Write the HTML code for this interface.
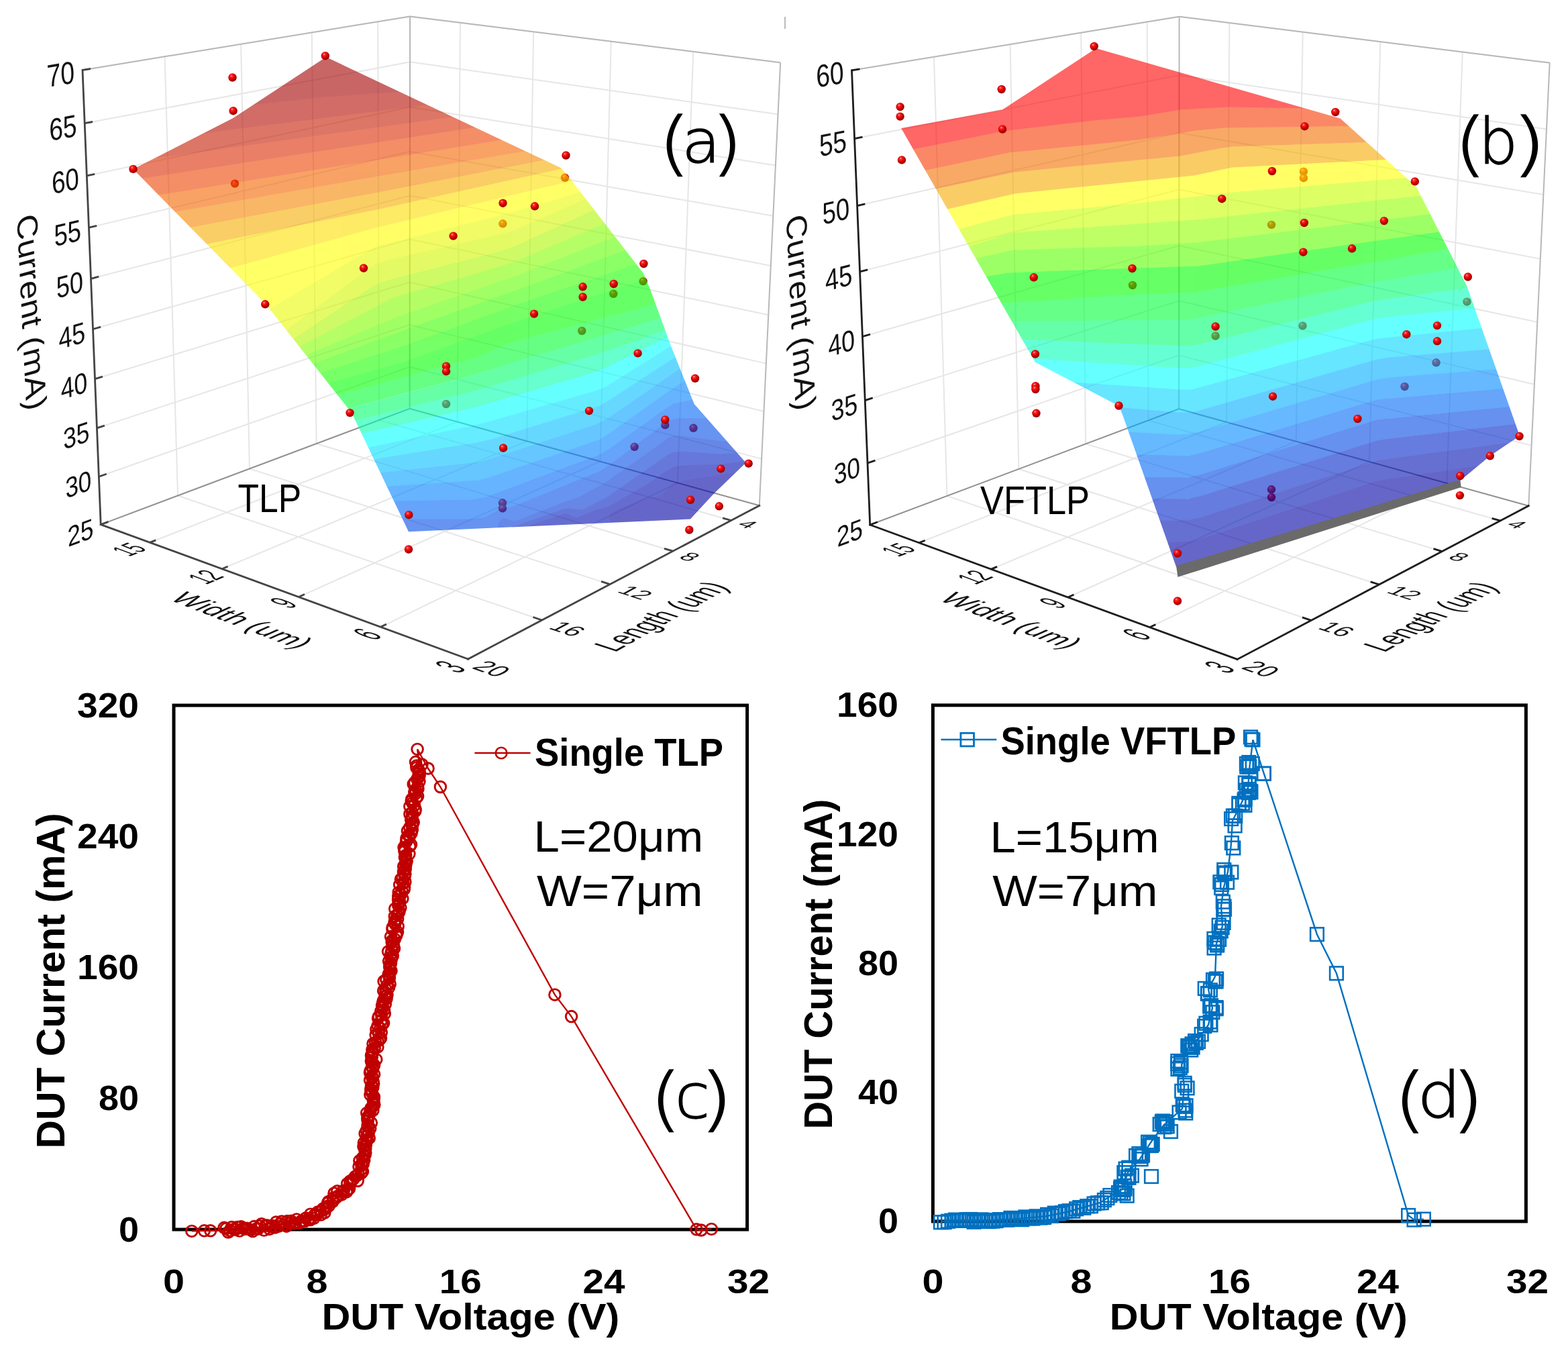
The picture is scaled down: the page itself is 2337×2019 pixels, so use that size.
<!DOCTYPE html>
<html><head><meta charset="utf-8"><style>html,body{margin:0;padding:0;background:#fff}svg{display:block}</style></head>
<body><svg xmlns="http://www.w3.org/2000/svg" width="2337" height="2019" viewBox="0 0 2337 2019">
<rect width="2337" height="2019" fill="#fff"/>
<defs><radialGradient id="sph" cx="0.42" cy="0.38" r="0.62" fx="0.36" fy="0.3">
<stop offset="0" stop-color="#ffd0d0"/><stop offset="0.18" stop-color="#ff3030"/><stop offset="0.55" stop-color="#e00000"/><stop offset="1" stop-color="#8a0000"/></radialGradient></defs>
<line x1="147.3" y1="710.2" x2="610.6" y2="546.8" stroke="#e6e6e6" stroke-width="2"/>
<line x1="144.4" y1="637.9" x2="610.7" y2="484" stroke="#e6e6e6" stroke-width="2"/>
<line x1="141.5" y1="564.7" x2="610.7" y2="420.5" stroke="#e6e6e6" stroke-width="2"/>
<line x1="138.5" y1="490.5" x2="610.8" y2="356.4" stroke="#e6e6e6" stroke-width="2"/>
<line x1="135.5" y1="415.3" x2="610.9" y2="291.5" stroke="#e6e6e6" stroke-width="2"/>
<line x1="132.4" y1="339.1" x2="610.9" y2="225.8" stroke="#e6e6e6" stroke-width="2"/>
<line x1="129.3" y1="261.9" x2="611" y2="159.5" stroke="#e6e6e6" stroke-width="2"/>
<line x1="126.2" y1="183.7" x2="611.1" y2="92.3" stroke="#e6e6e6" stroke-width="2"/>
<line x1="123" y1="104.4" x2="611.1" y2="24.4" stroke="#e6e6e6" stroke-width="2"/>
<line x1="265" y1="738.5" x2="245.5" y2="84.4" stroke="#e6e6e6" stroke-width="2"/>
<line x1="371.9" y1="698.4" x2="359.1" y2="65.8" stroke="#e6e6e6" stroke-width="2"/>
<line x1="471.6" y1="661" x2="464.7" y2="48.4" stroke="#e6e6e6" stroke-width="2"/>
<line x1="565" y1="626" x2="563.2" y2="32.3" stroke="#e6e6e6" stroke-width="2"/>
<line x1="610.6" y1="546.8" x2="1135.1" y2="683.6" stroke="#e6e6e6" stroke-width="2"/>
<line x1="610.7" y1="484" x2="1138.5" y2="613" stroke="#e6e6e6" stroke-width="2"/>
<line x1="610.7" y1="420.5" x2="1141.9" y2="541.6" stroke="#e6e6e6" stroke-width="2"/>
<line x1="610.8" y1="356.4" x2="1145.3" y2="469.2" stroke="#e6e6e6" stroke-width="2"/>
<line x1="610.9" y1="291.5" x2="1148.8" y2="395.9" stroke="#e6e6e6" stroke-width="2"/>
<line x1="610.9" y1="225.8" x2="1152.3" y2="321.7" stroke="#e6e6e6" stroke-width="2"/>
<line x1="611" y1="159.5" x2="1155.9" y2="246.5" stroke="#e6e6e6" stroke-width="2"/>
<line x1="611.1" y1="92.3" x2="1159.5" y2="170.3" stroke="#e6e6e6" stroke-width="2"/>
<line x1="611.1" y1="24.4" x2="1163.2" y2="93.2" stroke="#e6e6e6" stroke-width="2"/>
<line x1="681.6" y1="628.6" x2="685.9" y2="33.7" stroke="#e6e6e6" stroke-width="2"/>
<line x1="785.2" y1="657.3" x2="795.2" y2="47.4" stroke="#e6e6e6" stroke-width="2"/>
<line x1="894.4" y1="687.5" x2="910.8" y2="61.8" stroke="#e6e6e6" stroke-width="2"/>
<line x1="1009.8" y1="719.5" x2="1033.3" y2="77" stroke="#e6e6e6" stroke-width="2"/>
<line x1="223.3" y1="808.4" x2="681.6" y2="628.6" stroke="#e6e6e6" stroke-width="2"/>
<line x1="330.8" y1="847.7" x2="785.2" y2="657.3" stroke="#e6e6e6" stroke-width="2"/>
<line x1="445.2" y1="889.6" x2="894.4" y2="687.5" stroke="#e6e6e6" stroke-width="2"/>
<line x1="567.2" y1="934.3" x2="1009.8" y2="719.5" stroke="#e6e6e6" stroke-width="2"/>
<line x1="807.7" y1="924" x2="265" y2="738.5" stroke="#e6e6e6" stroke-width="2"/>
<line x1="909.1" y1="870.6" x2="371.9" y2="698.4" stroke="#e6e6e6" stroke-width="2"/>
<line x1="1002.8" y1="821.2" x2="471.6" y2="661" stroke="#e6e6e6" stroke-width="2"/>
<line x1="1089.7" y1="775.5" x2="565" y2="626" stroke="#e6e6e6" stroke-width="2"/>
<line x1="123" y1="104.4" x2="611.1" y2="24.4" stroke="#b8b8b8" stroke-width="2"/>
<line x1="611.1" y1="24.4" x2="1163.2" y2="93.2" stroke="#b8b8b8" stroke-width="2"/>
<line x1="1163.2" y1="93.2" x2="1131.8" y2="753.3" stroke="#b8b8b8" stroke-width="2"/>
<line x1="610.6" y1="608.9" x2="611.1" y2="24.4" stroke="#b8b8b8" stroke-width="2"/>
<line x1="150.2" y1="781.6" x2="610.6" y2="608.9" stroke="#909090" stroke-width="2"/>
<line x1="610.6" y1="608.9" x2="1131.8" y2="753.3" stroke="#909090" stroke-width="2"/>
<line x1="150.2" y1="781.6" x2="123" y2="104.4" stroke="#444" stroke-width="2.8" stroke-linecap="square"/>
<line x1="150.2" y1="781.6" x2="697.6" y2="982" stroke="#444" stroke-width="2.8" stroke-linecap="square"/>
<line x1="697.6" y1="982" x2="1131.8" y2="753.3" stroke="#444" stroke-width="2.8" stroke-linecap="square"/>
<line x1="150.2" y1="781.6" x2="161.5" y2="777.4" stroke="#444" stroke-width="2.8"/>
<line x1="147.3" y1="710.2" x2="158.7" y2="706.2" stroke="#444" stroke-width="2.8"/>
<line x1="144.4" y1="637.9" x2="155.9" y2="634.1" stroke="#444" stroke-width="2.8"/>
<line x1="141.5" y1="564.7" x2="153" y2="561.1" stroke="#444" stroke-width="2.8"/>
<line x1="138.5" y1="490.5" x2="150.1" y2="487.2" stroke="#444" stroke-width="2.8"/>
<line x1="135.5" y1="415.3" x2="147.2" y2="412.2" stroke="#444" stroke-width="2.8"/>
<line x1="132.4" y1="339.1" x2="144.2" y2="336.3" stroke="#444" stroke-width="2.8"/>
<line x1="129.3" y1="261.9" x2="141.2" y2="259.4" stroke="#444" stroke-width="2.8"/>
<line x1="126.2" y1="183.7" x2="138.1" y2="181.5" stroke="#444" stroke-width="2.8"/>
<line x1="123" y1="104.4" x2="135" y2="102.5" stroke="#444" stroke-width="2.8"/>
<line x1="223.3" y1="808.4" x2="232.2" y2="804.9" stroke="#444" stroke-width="2.8"/>
<line x1="330.8" y1="847.7" x2="339.6" y2="844" stroke="#444" stroke-width="2.8"/>
<line x1="445.2" y1="889.6" x2="454" y2="885.6" stroke="#444" stroke-width="2.8"/>
<line x1="567.2" y1="934.3" x2="575.9" y2="930" stroke="#444" stroke-width="2.8"/>
<line x1="807.7" y1="924" x2="794.4" y2="919.5" stroke="#444" stroke-width="2.8"/>
<line x1="909.1" y1="870.6" x2="896.1" y2="866.4" stroke="#444" stroke-width="2.8"/>
<line x1="1002.8" y1="821.2" x2="990" y2="817.3" stroke="#444" stroke-width="2.8"/>
<line x1="1089.7" y1="775.5" x2="1077.1" y2="771.9" stroke="#444" stroke-width="2.8"/>
<text x="0" y="14.4" font-size="40" font-family="Liberation Sans, Arial, sans-serif" text-anchor="end" fill="#111" transform="matrix(0.8686 -0.3259 0.0430 1.0424 139.2 785.7)">25</text>
<text x="0" y="14.4" font-size="40" font-family="Liberation Sans, Arial, sans-serif" text-anchor="end" fill="#111" transform="matrix(0.8750 -0.3087 0.0436 1.0558 136.2 714.1)">30</text>
<text x="0" y="14.4" font-size="40" font-family="Liberation Sans, Arial, sans-serif" text-anchor="end" fill="#111" transform="matrix(0.8815 -0.2909 0.0441 1.0695 133.2 641.6)">35</text>
<text x="0" y="14.4" font-size="40" font-family="Liberation Sans, Arial, sans-serif" text-anchor="end" fill="#111" transform="matrix(0.8880 -0.2727 0.0447 1.0834 130.2 568.1)">40</text>
<text x="0" y="14.4" font-size="40" font-family="Liberation Sans, Arial, sans-serif" text-anchor="end" fill="#111" transform="matrix(0.8947 -0.2540 0.0453 1.0977 127.1 493.7)">45</text>
<text x="0" y="14.4" font-size="40" font-family="Liberation Sans, Arial, sans-serif" text-anchor="end" fill="#111" transform="matrix(0.9015 -0.2348 0.0459 1.1122 124 418.3)">50</text>
<text x="0" y="14.4" font-size="40" font-family="Liberation Sans, Arial, sans-serif" text-anchor="end" fill="#111" transform="matrix(0.9083 -0.2150 0.0465 1.1270 120.9 341.8)">55</text>
<text x="0" y="14.4" font-size="40" font-family="Liberation Sans, Arial, sans-serif" text-anchor="end" fill="#111" transform="matrix(0.9153 -0.1947 0.0471 1.1421 117.7 264.4)">60</text>
<text x="0" y="14.4" font-size="40" font-family="Liberation Sans, Arial, sans-serif" text-anchor="end" fill="#111" transform="matrix(0.9223 -0.1738 0.0478 1.1575 114.4 185.9)">65</text>
<text x="0" y="14.4" font-size="40" font-family="Liberation Sans, Arial, sans-serif" text-anchor="end" fill="#111" transform="matrix(0.9295 -0.1523 0.0484 1.1732 111.1 106.4)">70</text>
<text x="0" y="14.4" font-size="40" font-family="Liberation Sans, Arial, sans-serif" text-anchor="middle" fill="#111" transform="matrix(0.6415 -0.2517 1.0428 0.3877 191.4 818.4)">15</text>
<text x="0" y="14.4" font-size="40" font-family="Liberation Sans, Arial, sans-serif" text-anchor="middle" fill="#111" transform="matrix(0.6393 -0.2679 1.1094 0.4124 305.4 859.3)">12</text>
<text x="0" y="14.4" font-size="40" font-family="Liberation Sans, Arial, sans-serif" text-anchor="middle" fill="#111" transform="matrix(0.6354 -0.2858 1.1826 0.4397 421.7 897.9)">9</text>
<text x="0" y="14.4" font-size="40" font-family="Liberation Sans, Arial, sans-serif" text-anchor="middle" fill="#111" transform="matrix(0.6296 -0.3055 1.2634 0.4697 546.2 944.7)">6</text>
<text x="0" y="14.4" font-size="40" font-family="Liberation Sans, Arial, sans-serif" text-anchor="middle" fill="#111" transform="matrix(0.6214 -0.3273 1.3527 0.5029 670.3 993.2)">3</text>
<text x="0" y="14.4" font-size="40" font-family="Liberation Sans, Arial, sans-serif" text-anchor="middle" fill="#111" transform="matrix(0.8910 0.3262 -0.8223 0.4419 733.3 996.1)">20</text>
<text x="0" y="14.4" font-size="40" font-family="Liberation Sans, Arial, sans-serif" text-anchor="middle" fill="#111" transform="matrix(0.8778 0.3000 -0.7555 0.4060 846.4 936.7)">16</text>
<text x="0" y="14.4" font-size="40" font-family="Liberation Sans, Arial, sans-serif" text-anchor="middle" fill="#111" transform="matrix(0.8638 0.2768 -0.6966 0.3744 947.6 882.8)">12</text>
<text x="0" y="14.4" font-size="40" font-family="Liberation Sans, Arial, sans-serif" text-anchor="middle" fill="#111" transform="matrix(0.8494 0.2562 -0.6443 0.3463 1028.6 829.3)">8</text>
<text x="0" y="14.4" font-size="40" font-family="Liberation Sans, Arial, sans-serif" text-anchor="middle" fill="#111" transform="matrix(0.8347 0.2378 -0.5977 0.3212 1114.9 780.9)">4</text>
<text x="0" y="14.4" font-size="40" font-family="Liberation Sans, Arial, sans-serif" text-anchor="middle" fill="#111" transform="matrix(0.0603 1.2550 -1.0804 0.2900 47.9 464.7)">Current (mA)</text>
<text x="0" y="14.4" font-size="40" font-family="Liberation Sans, Arial, sans-serif" text-anchor="middle" fill="#111" transform="matrix(0.9865 0.3791 -1.0082 0.4524 361.5 923.9)">Width (um)</text>
<text x="0" y="14.4" font-size="40" font-family="Liberation Sans, Arial, sans-serif" text-anchor="middle" fill="#111" transform="matrix(0.7951 -0.4478 1.2088 0.3941 984.5 918.2)">Length (um)</text>
<g><circle cx="350" cy="273.6" r="6.2" fill="url(#sph)"/><circle cx="842" cy="264.8" r="6.2" fill="url(#sph)"/><circle cx="749.4" cy="333.3" r="6.2" fill="url(#sph)"/><circle cx="958.6" cy="419.1" r="6.2" fill="url(#sph)"/><circle cx="914.3" cy="437.8" r="6.2" fill="url(#sph)"/><circle cx="867.3" cy="493" r="6.2" fill="url(#sph)"/><circle cx="665" cy="602" r="6.2" fill="url(#sph)"/><circle cx="991.3" cy="633.4" r="6.2" fill="url(#sph)"/><circle cx="1033.5" cy="637.8" r="6.2" fill="url(#sph)"/><circle cx="945.6" cy="665.8" r="6.2" fill="url(#sph)"/><circle cx="749" cy="749.3" r="6.2" fill="url(#sph)"/><circle cx="749" cy="757.4" r="6.2" fill="url(#sph)"/></g>
<clipPath id="clipa"><path d="M198.5,252 L347.4,176 L486,85 L835.7,250 L850,266.5 L959.5,408 L969.4,432 L1000,515.5 L1034.7,602 L1111.7,689.5 L1063.8,735.7 L1028.9,773.5 L609,792.3 L524,615 L396,453Z"/></clipPath>
<g clip-path="url(#clipa)" opacity="0.6"><path d="M192,75l2 0 751 0-3 3 0 3-6 6-52 0-1 6-3 36-4 21-4 9-3 3-5 2-10 0-10,-2-15,-6-10,-6-2,-3-1,-3 6,-12 2,-9-2,-4-4,-2-8,-1-40 6-6 3-9 7-9 2-24 0-24,-2-92 5-94 6-96 9-90 12-8 2-6 2-12 10-11 5-60 18-25 6-4 0-4,-3-8,-25 0,-104 4 0z" fill="#a30000" stroke="#a30000" stroke-width="1.2" fill-rule="evenodd"/><path d="M944,75l43 0-3 9-6 9-12 16-12 13-10 5-26 2-11 3-6 3-7 8-12 25-6 5-6 2-12 1-12,-2-10,-4-24,-13-8,-3-34 0-20,-7-48 2-378 47-112 21-8 3-10 8-6 2 0,-51 8 25 4 3 4 0 25,-6 61,-19 10,-4 12,-10 8,-3 70,-10 92,-10 114,-8 100,-5 12 0 14 2 24 0 9,-2 9,-7 6,-3 34,-6 8 0 10 3 2 4-2 9-6 12 1 3 2 3 10 6 15 6 10 2 10 0 5,-2 3,-3 4,-9 4,-21 3,-36 1,-6 52 0 6,-6 0,-3 2,-3z" fill="#b40a00" stroke="#b40a00" stroke-width="1.2" fill-rule="evenodd"/><path d="M987,77l0,-2 5 0-2 7-10 14-12 16-14 17-6 5-18 11-18 5-6 3-5 6-10 18-7 4-8 3-18 1-16,-2-8,-4-24,-14-6,-2-10 0-24 1-20 0-528 74-34 7 0,-15 6,-2 10,-8 12,-4 31,-6 79,-14 372,-47 52,-2 20 7 34 0 8 3 24 13 10 4 12 2 12,-1 6,-2 6,-5 12,-25 7,-8 6,-3 11,-3 26,-2 10,-5 15,-17 11,-17 7,-11z" fill="#c51b00" stroke="#c51b00" stroke-width="1.2" fill-rule="evenodd"/><path d="M992,75l4 0-2 6-3 6-12 18-17 21-3 6-2 6 1 12-2 6-3 3-5 3-34 7-6 5-9 12-11 5-24 4-18 0-10,-3-26,-14-6,-1-10 0-606 93 0,-25 24,-6 531,-74 57,-2 10 2 26 16 10 3 14 1 18,-2 9,-3 4,-3 10,-18 5,-6 6,-3 18,-5 18,-11 6,-5 14,-17 12,-16 8,-12 4,-9z" fill="#d92b00" stroke="#d92b00" stroke-width="1.2" fill-rule="evenodd"/><path d="M996,77l0,-2 5 0-2 6-4 9-25 33-3 6 1 6 8 9 4 6 2 12-1 6-1 3-4 3-8 3-44 8-6 3-11 7-7 3-30 5-22 2-8,-1-18,-5-12 0-604 97-18 2 0,-28 568,-87 38,-6 10 0 12 4 20 11 10 3 18 0 26,-5 10,-5 8,-11 6,-5 34,-7 5,-3 3,-3 2,-6-1,-12 2,-6 3,-6 25,-33 6,-9 3,-7z" fill="#ed4300" stroke="#ed4300" stroke-width="1.2" fill-rule="evenodd"/><path d="M1002,75l17 0 0 9-5 24 0 7-3 2-3 7-4 15-1 14 2 21 0 6-4 6-9 4-62 12-24 6-22 3-32 6-36 3-252 43-360 63-16 2 0,-30 18,-2 604,-97 12 0 24 6 26,-2 30,-6 18,-11 6,-1 46,-9 4,-2 4,-3 2,-6 0,-6-4,-12-10,-12-1,-6 3,-6 25,-33 4,-9 2,-6 1 0z" fill="#f36400" stroke="#f36400" stroke-width="1.2" fill-rule="evenodd"/><path d="M1020,75l17 0 2 21-1 42-4 10-6 11-1 6 0 12-3 6-13 12-13 7-42 9-392 76-358 67-18 3 0,-29 16,-2 360,-63 252,-43 38,-4 42,-7 34,-7 55,-10 11,-3 5,-3 4,-6 0,-6-2,-21 1,-14 4,-15 2,-7 4,-2 0,-7 4,-21 2,-12z" fill="#f38500" stroke="#f38500" stroke-width="1.2" fill-rule="evenodd"/><path d="M1038,75l3 0 2 12 0 42-2 21 1 6 6 15-1 6-8 9-31 21-10 5-44 14-388 86-360 73-18 3 0,-31 18,-3 358,-67 392,-76 42,-9 9,-4 8,-6 7,-6 4,-6 1,-6 0,-12 1,-3 6,-11 4,-13 1,-36-1,-24z" fill="#f7ad00" stroke="#f7ad00" stroke-width="1.2" fill-rule="evenodd"/><path d="M1044,75l1 0 2 18-1 57 5 6 15 12 2 3-2 6-10 9-30 17-18 12-24 10-18 12-78 22-24 8-304 73-314 87-46 12-12 2 0,-53 18,-3 360,-73 388,-86 48,-16 37,-24 8,-9 1,-6-6,-15-1,-6 2,-27 0,-30-2,-18 3 0z" fill="#fdde00" stroke="#fdde00" stroke-width="1.2" fill-rule="evenodd"/><path d="M1046,75l4 0 1 12 0 54 1 6 2 3 4 3 16 6 10 6 2 3 2 3-1 3-5 6-9 6-45 24-18 12-6 6-1 3 0 6-1 6-2 3-4 4-6 1-4,-1-8,-5-10 1-70 24-7 3-14 9-7 3-48 15-70 20-174 43-18 5-26 15-230 136-14 6-12 1-12,-4-33,-21-35,-25-10,-4 0,-31 12,-2 46,-12 314,-87 304,-73 104,-32 16,-10 20,-8 22,-14 25,-14 9,-6 6,-6 2,-6-2,-3-16,-13-4,-8 1,-51-2,-21 1 0z" fill="#ffff00" stroke="#ffff00" stroke-width="1.2" fill-rule="evenodd"/><path d="M1052,75l72 0 0 85-11 14-11 9-20 11-45 22-15 9-5 6-4 12-3 6-6 6-6 3-24 8-68 25-10 2-14 1-9 3-105 46-12 4-174 41-18 5-19 12-182 135-30 21-9 5-6,-1-16,-11-8,-4-18,-1-9,-3-37,-26-30,-24-6,-4-6,-2 0,-18 10 4 36 25 32 21 12 4 12,-1 14,-6 230,-136 26,-15 18,-5 174,-43 70,-20 48,-15 7,-3 13,-9 8,-3 70,-24 10,-1 8 5 4 1 6,-1 4,-4 2,-3 1,-6 0,-6 1,-3 6,-6 18,-12 45,-24 9,-6 5,-6 1,-3-2,-3-2,-3-10,-6-16,-6-4,-3-2,-3-1,-6 0,-48-1,-18 2 0z" fill="#e9fa00" stroke="#e9fa00" stroke-width="1.2" fill-rule="evenodd"/><path d="M1124,160l0 43-12 4-78 37-22 17-10 6-96 40-24 8-118 54-18 6-164 42-18 6-12 7-153 101-75 47-6 0-4,-2-12,-9-6,-3-6 0-18 3-8,-3-22,-15-36,-31-8,-5-10,-3 0,-20 6 2 6 4 34 26 36 25 6 2 18 1 8 4 16 11 2 1 6,-2 45,-30 171,-127 18,-12 18,-7 178,-41 12,-4 105,-46 9,-3 14,-1 10,-2 68,-25 22,-6 8,-5 6,-6 3,-6 4,-12 5,-6 15,-9 45,-22 20,-11 11,-9 11,-14z" fill="#d2f700" stroke="#d2f700" stroke-width="1.2" fill-rule="evenodd"/><path d="M1122,204l2,-1 0 38-6 1-12 5-342 145-164 48-18 6-190 100-48 26-18 12-6 3-8 1-4,-2-6,-6-6,-2-24 7-8,-2-12,-8-36,-33-12,-7-16,-3 0,-22 10 3 8 5 36 31 22 15 8 3 18,-3 6 0 6 3 12 9 4 2 6 0 75,-47 153,-101 12,-7 18,-6 164,-42 18,-6 118,-54 24,-8 96,-40 10,-6 22,-17 88,-40z" fill="#acf700" stroke="#acf700" stroke-width="1.2" fill-rule="evenodd"/><path d="M1118,242l6,-1 0 32-18 5-338 134-174 60-199 83-45 21-26 16-26 11-14 3-8 0-6,-2-12,-7-28,-27-12,-8-6,-3-8,-2-16 2 0,-27 16 3 12 7 36 33 12 8 8 2 24,-7 6 2 6 6 4 2 8,-1 6,-3 18,-12 48,-26 190,-100 18,-6 164,-48 354,-150z" fill="#85fd00" stroke="#85fd00" stroke-width="1.2" fill-rule="evenodd"/><path d="M1116,275l8,-2 0 31-18 5-716 262-40 15-24 12-30 12-20 5-12 0-6,-4-24,-22-6,-3-6,-2-4 0-2 2-5 8-5 3-18,-1 0,-37 16,-2 12 3 8 6 10 7 24 24 8 6 6 2 10 1 16,-3 26,-11 26,-16 45,-21 199,-83 174,-60 348,-137z" fill="#61ff00" stroke="#61ff00" stroke-width="1.2" fill-rule="evenodd"/><path d="M1118,305l6,-1 0 32-18 5-340 115-164 60-248 81-58 20-24 6-12 1-5,-2-15,-11-10,-4-8,-1-16 0-18,-3 0,-7 18 1 5,-3 5,-8 2,-2 4 0 6 2 6 3 24 22 6 4 8 0 22,-4 32,-13 24,-12 30,-11 234,-87 158,-56 346,-127z" fill="#3cff00" stroke="#3cff00" stroke-width="1.2" fill-rule="evenodd"/><path d="M1112,339l12,-3 0 28-19 5-363 120-134 49-342 97-12 0-14,-2-18,-1-18,-5-16,-3 0,-21 18 3 16 0 8 1 10 4 14 11 6 2 12,-1 24,-6 58,-20 248,-81 164,-60 346,-117z" fill="#1bff00" stroke="#1bff00" stroke-width="1.2" fill-rule="evenodd"/><path d="M1116,366l8,-2 0 48-8 2-18 7-324 86-16 5-36 16-16 6-436 119-16 3-18 2-48,-1 0,-33 16 3 17 5 19 1 14 2 10 0 14,-3 330,-94 134,-49 374,-123z" fill="#00ff00" stroke="#00ff00" stroke-width="1.2" fill-rule="evenodd"/><path d="M1116,414l8,-2 0 11-6 1-14 8-15 6-81 28-24 9-204 61-70 21-432 116-14 5-14 9-10 9-4 5-8 1 0 2-3 1 0 9 3 3 3 0 11 12 4 0 0 3-6 6 0 3-12 12 0 3-9 9-1 3-5 6 0 30-25 0 0,-147 48 1 18,-2 16,-3 436,-119 16,-6 34,-15 12,-4 312,-83 20,-6 16,-6z" fill="#00ff32" stroke="#00ff32" stroke-width="1.2" fill-rule="evenodd"/><path d="M1124,423l0 6-6 2-20 11-82 35-24 15-48 18-56 19-174 52-336 84-36 11-28 4-26 7-6 3-2 3 0 3 2 6 13 18 0 3-2 6-46 57-6 9-3 9-25 0 0,-30 5,-6 1,-3 9,-9 0,-3 12,-12 0,-3 6,-6 0,-3-4 0-11,-12-3 0-3,-3 0,-9 3,-1 0,-2 8,-1 4,-5 10,-9 14,-9 14,-5 321,-85 121,-33 60,-19 206,-62 22,-8 81,-28 15,-6 14,-8 6,-1z" fill="#00ff69" stroke="#00ff69" stroke-width="1.2" fill-rule="evenodd"/><path d="M1118,431l6,-2 0 7-6 2-20 14-28 13-20 12-24 13-40 17-84 42-18 7-174 51-330 77-24 6-32 2-24 7-4 3 0 3 5 15-1 6-2 3-20 24-24 30-9 12-3 9-4 0 3,-9 6,-9 44,-54 3,-6 1,-3-1,-5-10,-13-4,-9 0,-3 2,-3 6,-3 26,-7 28,-4 36,-11 336,-84 170,-51 60,-20 48,-18 24,-15 82,-35 20,-11z" fill="#00ffac" stroke="#00ffac" stroke-width="1.2" fill-rule="evenodd"/><path d="M1118,438l6,-2 0 10-2 3-1 7-8 6-40 21-23 6-40 21-104 65-18 9-156 44-28 7-330 69-12 1-26,-1-22 5-3 2-2 3-3 9-3 6-25 27-21 27-8 12-4 9-3 0 2,-6 5,-9 51,-63 1,-3 0,-6-5,-12 0,-3 6,-4 24,-6 30,-2 24,-6 330,-77 174,-51 18,-7 78,-39 47,-21 23,-12 20,-12 28,-13 20,-14z" fill="#00ffff" stroke="#00ffff" stroke-width="1.2" fill-rule="evenodd"/><path d="M1124,446l0 22-12 3-36 20-24 12-140 92-18 10-154 47-26 8-334 54-14 2-22 0-24 4-8 5-28 28-31 39-3 6-2 6-3 0 2,-6 6,-9 25,-33 25,-27 3,-6 3,-9 2,-3 3,-2 22,-5 26 1 12,-1 330,-69 24,-6 156,-45 12,-4 10,-5 104,-65 40,-21 23,-6 40,-21 8,-6 1,-7 2,-3z" fill="#00dfff" stroke="#00dfff" stroke-width="1.2" fill-rule="evenodd"/><path d="M1124,468l0 10-7 2-10 6-195 134-13 7-11 6-156 51-18 5-378 41-22 2-12 7-18 18-28 35-3 6-3 6-2 0 2,-6 3,-6 26,-33 29,-31 10,-7 26,-5 22 0 14,-2 330,-54 22,-5 146,-45 16,-5 14,-8 147,-96 21,-10 36,-20 12,-3z" fill="#00beff" stroke="#00beff" stroke-width="1.2" fill-rule="evenodd"/><path d="M1118,479l6,-1 0 23-12 6-120 80-86 61-10 5-12 6-152 52-18 5-342 23-30 3-30,-2-10 5-14 13-28 33-4 7-3 6-3 0 4,-9 28,-35 20,-21 12,-7 22,-2 378,-41 18,-5 156,-51 12,-6 12,-7 186,-128 20,-13z" fill="#00a0ff" stroke="#00a0ff" stroke-width="1.2" fill-rule="evenodd"/><path d="M1124,501l0 80-86 14-22 4-12 3-14 9-78 56-18 11-166 63-12 3-12 1-320 6-34 3-42,-3-6 2-6 3-8 7-22 26-6 9-3 6-4 0 5,-9 26,-34 15,-14 7,-4 6,-3 30 2 30,-3 342,-23 18,-5 140,-48 22,-8 12,-7 86,-61 120,-80 12,-6z" fill="#0082ff" stroke="#0082ff" stroke-width="1.2" fill-rule="evenodd"/><path d="M1118,582l6,-1 0 41-104 1-16 2-14 8-78 58-18 12-126 51-24 6-16 9-8 3-18 2-76 0-224,-3-10 2-1 4 7 20 10 7-151 0 3,-6 6,-9 22,-26 9,-7 5,-3 6,-2 42 3 34,-3 320,-6 18,-3 172,-64 18,-11 78,-56 14,-9 28,-6 86,-14z" fill="#0066f7" stroke="#0066f7" stroke-width="1.2" fill-rule="evenodd"/><path d="M1010,624l114,-2 0 35-48 2-60,-9-8 0-6 1-16 9-84 60-36 20-10 4-16 5-70 27-6 1-12,-4-4 1-3 3-2 6-1 21-334 0-10,-7-6,-17-1,-3 1,-4 6,-2 6 0 214 3 84 0 18,-2 8,-3 16,-9 24,-6 126,-51 15,-10 83,-62 10,-5 8,-2zM344,804l1 0-3 0 2 0z" fill="#004de6" stroke="#004de6" stroke-width="1.2" fill-rule="evenodd"/><path d="M1004,650l12 0 58 8 50,-1 0 17-48 3-60,-4-8 1-6 1-12 7-90 62-34 16-6 0-12,-2-8 1-82 29-1 1 0 3 3 12-18 0 1,-21 2,-6 3,-3 4,-1 13 4 6,-1 69,-27 24,-8 38,-21 88,-62 8,-6 6,-2z" fill="#0037d5" stroke="#0037d5" stroke-width="1.2" fill-rule="evenodd"/><path d="M1004,674l12,-1 58 4 50,-3 0 13-48 5-60 2-12 2-12 7-24 17-60 35-6 2-14 3-28 12-8,-4-6,-2-6 1-14 4-52 18-4 3-3 3 0 9-7 0-3,-12 0,-3 1,-1 82,-29 8,-1 16 2 6,-1 35,-18 85,-59 8,-5 6,-3zM848,782l6,-2 4 0 2 2 3 4 3 6 0 3-3 9-53 0 2,-3 6,-5 30,-14z" fill="#0021c1" stroke="#0021c1" stroke-width="1.2" fill-rule="evenodd"/><path d="M1118,687l6 0 0 14-110 17-12 5-13 12-5 4-6 2-12 0-6 2-44 19-7 6-1 3 1 3 5 8 14 16 3 6-68 0 3,-9-1,-6-5,-7-2,-2-4 0-33 15-9 6-2 3-43 0 0,-9 3,-3 4,-3 16,-6 52,-17 6 1 12 5 28,-12 14,-3 6,-2 60,-35 24,-17 12,-7 12,-2 60,-2 42,-5z" fill="#000db1" stroke="#000db1" stroke-width="1.2" fill-rule="evenodd"/><path d="M1116,702l8,-1 0 103-193 0-3,-6-14,-16-5,-8-1,-3 1,-3 3,-3 6,-4 42,-18 6,-2 12 0 6,-2 6,-4 12,-12 8,-4 12,-3 94,-14z" fill="#0000a3" stroke="#0000a3" stroke-width="1.2" fill-rule="evenodd"/></g>
<g><circle cx="346.5" cy="115.5" r="6.2" fill="url(#sph)"/><circle cx="347.6" cy="165.2" r="6.2" fill="url(#sph)"/><circle cx="484.8" cy="83.2" r="6.2" fill="url(#sph)"/><circle cx="198.5" cy="251.9" r="6.2" fill="url(#sph)"/><circle cx="542" cy="399.5" r="6.2" fill="url(#sph)"/><circle cx="395.2" cy="453.3" r="6.2" fill="url(#sph)"/><circle cx="843.5" cy="231.5" r="6.2" fill="url(#sph)"/><circle cx="749.5" cy="302.7" r="6.2" fill="url(#sph)"/><circle cx="797" cy="307.3" r="6.2" fill="url(#sph)"/><circle cx="675.6" cy="351.6" r="6.2" fill="url(#sph)"/><circle cx="959.4" cy="393" r="6.2" fill="url(#sph)"/><circle cx="868.6" cy="427.3" r="6.2" fill="url(#sph)"/><circle cx="868.6" cy="442.5" r="6.2" fill="url(#sph)"/><circle cx="914.7" cy="423" r="6.2" fill="url(#sph)"/><circle cx="796" cy="467.6" r="6.2" fill="url(#sph)"/><circle cx="521.5" cy="615.1" r="6.2" fill="url(#sph)"/><circle cx="665" cy="545.6" r="6.2" fill="url(#sph)"/><circle cx="665" cy="553.3" r="6.2" fill="url(#sph)"/><circle cx="950.6" cy="526.4" r="6.2" fill="url(#sph)"/><circle cx="1036" cy="563.8" r="6.2" fill="url(#sph)"/><circle cx="878" cy="612.1" r="6.2" fill="url(#sph)"/><circle cx="991.3" cy="625.5" r="6.2" fill="url(#sph)"/><circle cx="750.1" cy="667.5" r="6.2" fill="url(#sph)"/><circle cx="1115.7" cy="690.6" r="6.2" fill="url(#sph)"/><circle cx="1074.3" cy="698.4" r="6.2" fill="url(#sph)"/><circle cx="1029.1" cy="744.8" r="6.2" fill="url(#sph)"/><circle cx="1071.8" cy="754.3" r="6.2" fill="url(#sph)"/><circle cx="609.3" cy="767.2" r="6.2" fill="url(#sph)"/><circle cx="1027.3" cy="789.5" r="6.2" fill="url(#sph)"/><circle cx="609" cy="818.5" r="6.2" fill="url(#sph)"/></g>
<text x="354.5" y="763" font-size="58.5" font-family="Liberation Sans, Arial, sans-serif" textLength="94.5" lengthAdjust="spacingAndGlyphs">TLP</text>
<text x="0" y="0" font-size="100" font-family="DejaVu Sans, sans-serif" font-weight="200" stroke="#000" stroke-width="1.5" transform="translate(981.16 249.40) scale(1.2147 1.0303)">(</text><text x="0" y="0" font-size="100" font-family="DejaVu Sans, sans-serif" font-weight="200" stroke="#000" stroke-width="1.5" transform="translate(1016.19 242.35) scale(0.9400 0.8831)">a</text><text x="0" y="0" font-size="100" font-family="DejaVu Sans, sans-serif" font-weight="200" stroke="#000" stroke-width="1.5" transform="translate(1060.25 249.40) scale(1.2045 1.0303)">)</text>
<line x1="1293" y1="690" x2="1757.1" y2="529.3" stroke="#e6e6e6" stroke-width="2"/>
<line x1="1289.3" y1="596.6" x2="1757.2" y2="448.2" stroke="#e6e6e6" stroke-width="2"/>
<line x1="1285.4" y1="501.5" x2="1757.3" y2="366" stroke="#e6e6e6" stroke-width="2"/>
<line x1="1281.5" y1="404.9" x2="1757.4" y2="282.5" stroke="#e6e6e6" stroke-width="2"/>
<line x1="1277.6" y1="306.6" x2="1757.5" y2="197.9" stroke="#e6e6e6" stroke-width="2"/>
<line x1="1273.6" y1="206.6" x2="1757.5" y2="112" stroke="#e6e6e6" stroke-width="2"/>
<line x1="1269.5" y1="104.8" x2="1757.6" y2="24.8" stroke="#e6e6e6" stroke-width="2"/>
<line x1="1411.5" y1="738.9" x2="1392" y2="84.8" stroke="#e6e6e6" stroke-width="2"/>
<line x1="1518.4" y1="698.8" x2="1505.6" y2="66.2" stroke="#e6e6e6" stroke-width="2"/>
<line x1="1618.1" y1="661.4" x2="1611.2" y2="48.8" stroke="#e6e6e6" stroke-width="2"/>
<line x1="1711.5" y1="626.4" x2="1709.7" y2="32.7" stroke="#e6e6e6" stroke-width="2"/>
<line x1="1757.1" y1="529.3" x2="2282.6" y2="663.9" stroke="#e6e6e6" stroke-width="2"/>
<line x1="1757.2" y1="448.2" x2="2286.9" y2="572.7" stroke="#e6e6e6" stroke-width="2"/>
<line x1="1757.3" y1="366" x2="2291.3" y2="480" stroke="#e6e6e6" stroke-width="2"/>
<line x1="1757.4" y1="282.5" x2="2295.8" y2="385.8" stroke="#e6e6e6" stroke-width="2"/>
<line x1="1757.5" y1="197.9" x2="2300.3" y2="290" stroke="#e6e6e6" stroke-width="2"/>
<line x1="1757.5" y1="112" x2="2305" y2="192.6" stroke="#e6e6e6" stroke-width="2"/>
<line x1="1757.6" y1="24.8" x2="2309.7" y2="93.6" stroke="#e6e6e6" stroke-width="2"/>
<line x1="1828.1" y1="629" x2="1832.4" y2="34.1" stroke="#e6e6e6" stroke-width="2"/>
<line x1="1931.7" y1="657.7" x2="1941.7" y2="47.8" stroke="#e6e6e6" stroke-width="2"/>
<line x1="2040.9" y1="687.9" x2="2057.3" y2="62.2" stroke="#e6e6e6" stroke-width="2"/>
<line x1="2156.3" y1="719.9" x2="2179.8" y2="77.4" stroke="#e6e6e6" stroke-width="2"/>
<line x1="1369.8" y1="808.8" x2="1828.1" y2="629" stroke="#e6e6e6" stroke-width="2"/>
<line x1="1477.3" y1="848.1" x2="1931.7" y2="657.7" stroke="#e6e6e6" stroke-width="2"/>
<line x1="1591.7" y1="890" x2="2040.9" y2="687.9" stroke="#e6e6e6" stroke-width="2"/>
<line x1="1713.7" y1="934.7" x2="2156.3" y2="719.9" stroke="#e6e6e6" stroke-width="2"/>
<line x1="1954.2" y1="924.4" x2="1411.5" y2="738.9" stroke="#e6e6e6" stroke-width="2"/>
<line x1="2055.6" y1="871" x2="1518.4" y2="698.8" stroke="#e6e6e6" stroke-width="2"/>
<line x1="2149.3" y1="821.6" x2="1618.1" y2="661.4" stroke="#e6e6e6" stroke-width="2"/>
<line x1="2236.2" y1="775.9" x2="1711.5" y2="626.4" stroke="#e6e6e6" stroke-width="2"/>
<line x1="1269.5" y1="104.8" x2="1757.6" y2="24.8" stroke="#b8b8b8" stroke-width="2"/>
<line x1="1757.6" y1="24.8" x2="2309.7" y2="93.6" stroke="#b8b8b8" stroke-width="2"/>
<line x1="2309.7" y1="93.6" x2="2278.3" y2="753.7" stroke="#b8b8b8" stroke-width="2"/>
<line x1="1757.1" y1="609.3" x2="1757.6" y2="24.8" stroke="#b8b8b8" stroke-width="2"/>
<line x1="1296.7" y1="782" x2="1757.1" y2="609.3" stroke="#909090" stroke-width="2"/>
<line x1="1757.1" y1="609.3" x2="2278.3" y2="753.7" stroke="#909090" stroke-width="2"/>
<line x1="1296.7" y1="782" x2="1269.5" y2="104.8" stroke="#1e1e1e" stroke-width="2.8" stroke-linecap="square"/>
<line x1="1296.7" y1="782" x2="1844.1" y2="982.4" stroke="#1e1e1e" stroke-width="2.8" stroke-linecap="square"/>
<line x1="1844.1" y1="982.4" x2="2278.3" y2="753.7" stroke="#1e1e1e" stroke-width="2.8" stroke-linecap="square"/>
<line x1="1296.7" y1="782" x2="1308" y2="777.8" stroke="#1e1e1e" stroke-width="2.8"/>
<line x1="1293" y1="690" x2="1304.4" y2="686.1" stroke="#1e1e1e" stroke-width="2.8"/>
<line x1="1289.3" y1="596.6" x2="1300.7" y2="592.9" stroke="#1e1e1e" stroke-width="2.8"/>
<line x1="1285.4" y1="501.5" x2="1297" y2="498.2" stroke="#1e1e1e" stroke-width="2.8"/>
<line x1="1281.5" y1="404.9" x2="1293.2" y2="401.9" stroke="#1e1e1e" stroke-width="2.8"/>
<line x1="1277.6" y1="306.6" x2="1289.4" y2="303.9" stroke="#1e1e1e" stroke-width="2.8"/>
<line x1="1273.6" y1="206.6" x2="1285.5" y2="204.2" stroke="#1e1e1e" stroke-width="2.8"/>
<line x1="1269.5" y1="104.8" x2="1281.5" y2="102.9" stroke="#1e1e1e" stroke-width="2.8"/>
<line x1="1369.8" y1="808.8" x2="1378.7" y2="805.3" stroke="#1e1e1e" stroke-width="2.8"/>
<line x1="1477.3" y1="848.1" x2="1486.1" y2="844.4" stroke="#1e1e1e" stroke-width="2.8"/>
<line x1="1591.7" y1="890" x2="1600.5" y2="886" stroke="#1e1e1e" stroke-width="2.8"/>
<line x1="1713.7" y1="934.7" x2="1722.4" y2="930.4" stroke="#1e1e1e" stroke-width="2.8"/>
<line x1="1954.2" y1="924.4" x2="1940.9" y2="919.9" stroke="#1e1e1e" stroke-width="2.8"/>
<line x1="2055.6" y1="871" x2="2042.6" y2="866.8" stroke="#1e1e1e" stroke-width="2.8"/>
<line x1="2149.3" y1="821.6" x2="2136.5" y2="817.7" stroke="#1e1e1e" stroke-width="2.8"/>
<line x1="2236.2" y1="775.9" x2="2223.6" y2="772.3" stroke="#1e1e1e" stroke-width="2.8"/>
<text x="0" y="14.4" font-size="40" font-family="Liberation Sans, Arial, sans-serif" text-anchor="end" fill="#111" transform="matrix(0.8686 -0.3259 0.0430 1.0424 1285.7 786.1)">25</text>
<text x="0" y="14.4" font-size="40" font-family="Liberation Sans, Arial, sans-serif" text-anchor="end" fill="#111" transform="matrix(0.8769 -0.3036 0.0437 1.0597 1281.9 693.9)">30</text>
<text x="0" y="14.4" font-size="40" font-family="Liberation Sans, Arial, sans-serif" text-anchor="end" fill="#111" transform="matrix(0.8852 -0.2806 0.0445 1.0774 1278 600.1)">35</text>
<text x="0" y="14.4" font-size="40" font-family="Liberation Sans, Arial, sans-serif" text-anchor="end" fill="#111" transform="matrix(0.8937 -0.2567 0.0452 1.0956 1274.1 504.8)">40</text>
<text x="0" y="14.4" font-size="40" font-family="Liberation Sans, Arial, sans-serif" text-anchor="end" fill="#111" transform="matrix(0.9024 -0.2320 0.0460 1.1143 1270.1 407.8)">45</text>
<text x="0" y="14.4" font-size="40" font-family="Liberation Sans, Arial, sans-serif" text-anchor="end" fill="#111" transform="matrix(0.9113 -0.2064 0.0468 1.1334 1266 309.2)">50</text>
<text x="0" y="14.4" font-size="40" font-family="Liberation Sans, Arial, sans-serif" text-anchor="end" fill="#111" transform="matrix(0.9203 -0.1798 0.0476 1.1530 1261.9 208.9)">55</text>
<text x="0" y="14.4" font-size="40" font-family="Liberation Sans, Arial, sans-serif" text-anchor="end" fill="#111" transform="matrix(0.9295 -0.1523 0.0484 1.1732 1257.6 106.8)">60</text>
<text x="0" y="14.4" font-size="40" font-family="Liberation Sans, Arial, sans-serif" text-anchor="middle" fill="#111" transform="matrix(0.6415 -0.2517 1.0428 0.3877 1337.9 818.8)">15</text>
<text x="0" y="14.4" font-size="40" font-family="Liberation Sans, Arial, sans-serif" text-anchor="middle" fill="#111" transform="matrix(0.6393 -0.2679 1.1094 0.4124 1451.9 859.7)">12</text>
<text x="0" y="14.4" font-size="40" font-family="Liberation Sans, Arial, sans-serif" text-anchor="middle" fill="#111" transform="matrix(0.6354 -0.2858 1.1826 0.4397 1568.2 898.3)">9</text>
<text x="0" y="14.4" font-size="40" font-family="Liberation Sans, Arial, sans-serif" text-anchor="middle" fill="#111" transform="matrix(0.6296 -0.3055 1.2634 0.4697 1692.7 945.1)">6</text>
<text x="0" y="14.4" font-size="40" font-family="Liberation Sans, Arial, sans-serif" text-anchor="middle" fill="#111" transform="matrix(0.6214 -0.3273 1.3527 0.5029 1816.8 993.6)">3</text>
<text x="0" y="14.4" font-size="40" font-family="Liberation Sans, Arial, sans-serif" text-anchor="middle" fill="#111" transform="matrix(0.8910 0.3262 -0.8223 0.4419 1879.8 996.5)">20</text>
<text x="0" y="14.4" font-size="40" font-family="Liberation Sans, Arial, sans-serif" text-anchor="middle" fill="#111" transform="matrix(0.8778 0.3000 -0.7555 0.4060 1992.9 937.1)">16</text>
<text x="0" y="14.4" font-size="40" font-family="Liberation Sans, Arial, sans-serif" text-anchor="middle" fill="#111" transform="matrix(0.8638 0.2768 -0.6966 0.3744 2094.1 883.2)">12</text>
<text x="0" y="14.4" font-size="40" font-family="Liberation Sans, Arial, sans-serif" text-anchor="middle" fill="#111" transform="matrix(0.8494 0.2562 -0.6443 0.3463 2175.1 829.7)">8</text>
<text x="0" y="14.4" font-size="40" font-family="Liberation Sans, Arial, sans-serif" text-anchor="middle" fill="#111" transform="matrix(0.8347 0.2378 -0.5977 0.3212 2261.4 781.3)">4</text>
<text x="0" y="14.4" font-size="40" font-family="Liberation Sans, Arial, sans-serif" text-anchor="middle" fill="#111" transform="matrix(0.0603 1.2550 -1.0804 0.2900 1194.4 465.1)">Current (mA)</text>
<text x="0" y="14.4" font-size="40" font-family="Liberation Sans, Arial, sans-serif" text-anchor="middle" fill="#111" transform="matrix(0.9865 0.3791 -1.0082 0.4524 1508 924.3)">Width (um)</text>
<text x="0" y="14.4" font-size="40" font-family="Liberation Sans, Arial, sans-serif" text-anchor="middle" fill="#111" transform="matrix(0.7951 -0.4478 1.2088 0.3941 2131 918.6)">Length (um)</text>
<g><circle cx="1942.9" cy="255.6" r="6.2" fill="url(#sph)"/><circle cx="1942.9" cy="265.2" r="6.2" fill="url(#sph)"/><circle cx="1895" cy="334.9" r="6.2" fill="url(#sph)"/><circle cx="2186.4" cy="449.6" r="6.2" fill="url(#sph)"/><circle cx="1811.6" cy="500.5" r="6.2" fill="url(#sph)"/><circle cx="1941.5" cy="485.4" r="6.2" fill="url(#sph)"/><circle cx="2140.5" cy="540.3" r="6.2" fill="url(#sph)"/><circle cx="2093.5" cy="576" r="6.2" fill="url(#sph)"/><circle cx="1688" cy="425" r="6.2" fill="url(#sph)"/><circle cx="1895" cy="729.3" r="6.2" fill="url(#sph)"/><circle cx="1895" cy="741" r="6.2" fill="url(#sph)"/></g>
<clipPath id="clipb"><path d="M1343.1,191.1 L1494.1,163.5 L1633.6,72 L1997.6,176.5 L2110.9,278.2 L2186.4,426.4 L2265,649.5 L2221.2,679.1 L2176.6,716 L1753,844.5 L1673,617.8 L1667.5,604.8 L1543,539.8Z"/></clipPath>
<g clip-path="url(#clipb)" opacity="0.6"><path d="M1336,62l939 0 0 87-30 6-33 3-9 2-6 5-3 11-2 3-4 2-6 1-93,-9-9,-2-12,-5-9,-1-222,-5-72 4-66 10-72 7-123 14-159 31-12 2 0,-166 3 0z" fill="#ff0000" stroke="#ff0000" stroke-width="1.2" fill-rule="evenodd"/><path d="M2263,152l12,-3 0 37-54 1-6 2-7 5-5 2-27,-4-117,-4-234 3-42 4-87 14-189 18-159 34-15 2 0,-35 23,-4 139,-28 24,-3 111,-13 69,-6 60,-10 72,-4 120 2 111 3 6 1 12 5 9 2 57 6 39 2 7,-2 2,-3 3,-11 6,-5 9,-2 33,-3 18,-3z" fill="#f73900" stroke="#f73900" stroke-width="1.2" fill-rule="evenodd"/><path d="M2035,188l27 0 114 4 9 1 15 3 6,-1 9,-6 6,-2 54,-1 0 19-51 2-21 2-30,-1-339 11-75 14-249 24-162 35-15 2 0,-31 15,-2 156,-33 192,-19 87,-14 42,-4 210,-3z" fill="#f37100" stroke="#f37100" stroke-width="1.2" fill-rule="evenodd"/><path d="M2239,206l36,-1 0 23-441 22-54 12-270 28-162 37-15 2 0,-35 15,-2 165,-35 246,-24 63,-12 15,-2 336,-11 30 1 18,-2 18,-1z" fill="#f7aa00" stroke="#f7aa00" stroke-width="1.2" fill-rule="evenodd"/><path d="M2233,230l42,-2 0 23-435 36-60 6-84 10-177 16-18 3-153 43-15 3 0,-39 15,-2 165,-38 267,-27 57,-12 396,-20z" fill="#ffff00" stroke="#ffff00" stroke-width="1.2" fill-rule="evenodd"/><path d="M2236,254l39,-3 0 25-492 52-267 18-15 4-146 45-13 3-9 0 0,-30 15,-3 147,-41 18,-4 186,-17 138,-16 399,-33z" fill="#c8ff00" stroke="#c8ff00" stroke-width="1.2" fill-rule="evenodd"/><path d="M2251,278l24,-2 0 27-492 59-84 5-186 6-49 10-102 24-14 4-15 7 0,-20 9 0 13,-3 143,-44 15,-4 270,-19 468,-50z" fill="#93ff00" stroke="#93ff00" stroke-width="1.2" fill-rule="evenodd"/><path d="M2251,305l24,-2 0 25-486 69-21 2-255 7-150 24-30 6 0,-18 15,-7 77,-19 85,-19 189,-6 84,-5 468,-57z" fill="#5dff00" stroke="#5dff00" stroke-width="1.2" fill-rule="evenodd"/><path d="M2266,329l9,-1 0 23-15 2-207 37-270 46-18 1-75 2-357 24 0,-27 27,-6 144,-23 21,-1 261,-9 480,-68z" fill="#00ff00" stroke="#00ff00" stroke-width="1.2" fill-rule="evenodd"/><path d="M2260,353l15,-2 0 32-15 2-207 35-276 56-18 1-426 4 0,-18 360,-24 87,-3 273,-46 207,-37z" fill="#00ff39" stroke="#00ff39" stroke-width="1.2" fill-rule="evenodd"/><path d="M2275,383l0 35-222 30-276 68-18 0-426,-18 0,-17 426,-4 18,-1 276,-56 207,-35 15,-2z" fill="#00ff71" stroke="#00ff71" stroke-width="1.2" fill-rule="evenodd"/><path d="M2263,419l12,-1 0 33-222 24-261 70-18 4-18 0-423,-27 0,-24 426 18 15 0 21,-4 258,-64 210,-29z" fill="#00ffb9" stroke="#00ffb9" stroke-width="1.2" fill-rule="evenodd"/><path d="M2266,452l9,-1 0 32-201 20-21 2-261 72-18 4-18 0-321,-23-102,-5 0,-31 423 27 18 0 18,-4 261,-70 213,-23z" fill="#00ffff" stroke="#00ffff" stroke-width="1.2" fill-rule="evenodd"/><path d="M2254,485l21,-2 0 34-201 16-21 3-261 75-18 4-18 0-297,-25-12 1-24 3-57,-3-33 0 0,-38 105 6 321 22 18 0 276,-76 201,-20z" fill="#00d5ff" stroke="#00d5ff" stroke-width="1.2" fill-rule="evenodd"/><path d="M2257,518l18,-1 0 30-201 16-21 3-261 77-18 4-18 1-372,-19-51,-1 0,-37 33 0 57 3 24,-3 12,-1 297 25 21 0 15,-4 261,-75 18,-3 186,-15zM1336,646l5 7 1 6-3 6-6 3 0,-24 3 2z" fill="#00acff" stroke="#00acff" stroke-width="1.2" fill-rule="evenodd"/><path d="M2263,548l12,-1 0 30-201 16-21 3-261 79-18 4-18 1-324,-10-27,-3-39,-1-6 0-3 2-6 9-3 2-15 2 0,-13 6,-3 3,-6-1,-6-2,-4-3,-3-3,-2 0,-16 51 1 372 19 18,-1 18,-4 261,-77 18,-3 192,-15z" fill="#008aff" stroke="#008aff" stroke-width="1.2" fill-rule="evenodd"/><path d="M2260,578l15,-1 0 28-201 18-21 3-261 81-18 4-18 1-297,-2-33,-4-42,-4-7 2-8 7-3 2-6 0-15,-4-12 0 0,-28 15,-2 3,-2 6,-9 6,-2 42 1 27 3 339 10 21,-5 261,-79 18,-2 189,-16z" fill="#0069f7" stroke="#0069f7" stroke-width="1.2" fill-rule="evenodd"/><path d="M2269,605l6 0 0 26-201 22-21 4-261 82-18 4-18 1-297,-1-27,-1-30,-3-8 1-7 4-6 2-18,-1-30 0 0,-36 12 0 15 4 6 0 3,-2 8,-7 7,-2 42 4 33 4 312 2 21,-5 261,-81 18,-2 198,-19z" fill="#0048e3" stroke="#0048e3" stroke-width="1.2" fill-rule="evenodd"/><path d="M2263,632l12,-1 0 27-199 25-23 4-261 84-18 4-18 1-294 3-15,-1-27,-3-18 4-69 0 0,-34 30 0 18 1 6,-2 7,-4 8,-1 30 3 27 1 312 1 21,-5 261,-82 18,-3 192,-22z" fill="#0026c8" stroke="#0026c8" stroke-width="1.2" fill-rule="evenodd"/><path d="M2260,659l15,-1 0 27-198 28-24 4-261 86-18 4-18 1-282 3-33 0-18 2-90,-1 0,-33 69 0 18,-4 27 3 15 1 294,-3 18,-1 18,-4 261,-84 18,-3 189,-25z" fill="#0011b1" stroke="#0011b1" stroke-width="1.2" fill-rule="evenodd"/><path d="M2266,686l9,-1 0 172-942 0 0,-45 90 1 18,-2 33 0 282,-3 18,-1 18,-4 261,-86 18,-3 195,-28z" fill="#0000a3" stroke="#0000a3" stroke-width="1.2" fill-rule="evenodd"/></g>
<path d="M1753,843.3 L2176.4,714.8 L2177.6,726 L1755.5,859.8Z" fill="#6a6a6a"/>
<g><circle cx="1341.6" cy="159.1" r="6.2" fill="url(#sph)"/><circle cx="1341.6" cy="173.6" r="6.2" fill="url(#sph)"/><circle cx="1492.7" cy="133" r="6.2" fill="url(#sph)"/><circle cx="1494.1" cy="192.5" r="6.2" fill="url(#sph)"/><circle cx="1344" cy="238.4" r="6.2" fill="url(#sph)"/><circle cx="1630.7" cy="69" r="6.2" fill="url(#sph)"/><circle cx="1990.3" cy="167" r="6.2" fill="url(#sph)"/><circle cx="1944.4" cy="188.2" r="6.2" fill="url(#sph)"/><circle cx="1895.9" cy="255" r="6.2" fill="url(#sph)"/><circle cx="2108.8" cy="270.4" r="6.2" fill="url(#sph)"/><circle cx="1821.2" cy="296.2" r="6.2" fill="url(#sph)"/><circle cx="1943.8" cy="332" r="6.2" fill="url(#sph)"/><circle cx="2062.9" cy="329.1" r="6.2" fill="url(#sph)"/><circle cx="1942.4" cy="375.6" r="6.2" fill="url(#sph)"/><circle cx="2015" cy="370.3" r="6.2" fill="url(#sph)"/><circle cx="2187.8" cy="412.5" r="6.2" fill="url(#sph)"/><circle cx="1811.6" cy="486.5" r="6.2" fill="url(#sph)"/><circle cx="2096.3" cy="498.2" r="6.2" fill="url(#sph)"/><circle cx="2142" cy="485.1" r="6.2" fill="url(#sph)"/><circle cx="2142" cy="508.3" r="6.2" fill="url(#sph)"/><circle cx="1540.8" cy="413.3" r="6.2" fill="url(#sph)"/><circle cx="1687.5" cy="400" r="6.2" fill="url(#sph)"/><circle cx="1543" cy="527.5" r="6.2" fill="url(#sph)"/><circle cx="1543.4" cy="575.2" r="6.2" fill="url(#sph)"/><circle cx="1543.4" cy="580" r="6.2" fill="url(#sph)"/><circle cx="1544.5" cy="615.8" r="6.2" fill="url(#sph)"/><circle cx="1667.5" cy="604.5" r="6.2" fill="url(#sph)"/><circle cx="1897" cy="590.7" r="6.2" fill="url(#sph)"/><circle cx="2023.4" cy="624" r="6.2" fill="url(#sph)"/><circle cx="2264.5" cy="650" r="6.2" fill="url(#sph)"/><circle cx="2220.8" cy="679.3" r="6.2" fill="url(#sph)"/><circle cx="2176.3" cy="709" r="6.2" fill="url(#sph)"/><circle cx="2175.9" cy="738.1" r="6.2" fill="url(#sph)"/><circle cx="1755" cy="824.5" r="6.2" fill="url(#sph)"/><circle cx="1755" cy="895.5" r="6.2" fill="url(#sph)"/></g>
<text x="1461" y="766" font-size="58.5" font-family="Liberation Sans, Arial, sans-serif" textLength="163" lengthAdjust="spacingAndGlyphs">VFTLP</text>
<text x="0" y="0" font-size="100" font-family="DejaVu Sans, sans-serif" font-weight="200" stroke="#000" stroke-width="1.5" transform="translate(2167.18 250.25) scale(1.2316 1.0269)">(</text><text x="0" y="0" font-size="100" font-family="DejaVu Sans, sans-serif" font-weight="200" stroke="#000" stroke-width="1.5" transform="translate(2203.45 243.58) scale(0.9250 0.9392)">b</text><text x="0" y="0" font-size="100" font-family="DejaVu Sans, sans-serif" font-weight="200" stroke="#000" stroke-width="1.5" transform="translate(2253.14 250.25) scale(1.3239 1.0269)">)</text>
<line x1="1170" y1="25" x2="1170" y2="43" stroke="#bbb" stroke-width="2"/>
<rect x="259" y="1051" width="854.6" height="781" fill="none" stroke="#000" stroke-width="5"/>
<text x="207" y="1849.5" font-size="51" font-family="Liberation Sans, Arial, sans-serif" font-weight="bold" text-anchor="end" textLength="30" lengthAdjust="spacingAndGlyphs">0</text>
<text x="207" y="1654.2" font-size="51" font-family="Liberation Sans, Arial, sans-serif" font-weight="bold" text-anchor="end" textLength="60" lengthAdjust="spacingAndGlyphs">80</text>
<text x="207" y="1459" font-size="51" font-family="Liberation Sans, Arial, sans-serif" font-weight="bold" text-anchor="end" textLength="92" lengthAdjust="spacingAndGlyphs">160</text>
<text x="207" y="1263.8" font-size="51" font-family="Liberation Sans, Arial, sans-serif" font-weight="bold" text-anchor="end" textLength="92" lengthAdjust="spacingAndGlyphs">240</text>
<text x="207" y="1068.5" font-size="51" font-family="Liberation Sans, Arial, sans-serif" font-weight="bold" text-anchor="end" textLength="92" lengthAdjust="spacingAndGlyphs">320</text>
<text x="259" y="1927" font-size="50" font-family="Liberation Sans, Arial, sans-serif" font-weight="bold" text-anchor="middle" textLength="32" lengthAdjust="spacingAndGlyphs">0</text>
<text x="472.6" y="1927" font-size="50" font-family="Liberation Sans, Arial, sans-serif" font-weight="bold" text-anchor="middle" textLength="32" lengthAdjust="spacingAndGlyphs">8</text>
<text x="686.3" y="1927" font-size="50" font-family="Liberation Sans, Arial, sans-serif" font-weight="bold" text-anchor="middle" textLength="63" lengthAdjust="spacingAndGlyphs">16</text>
<text x="899.9" y="1927" font-size="50" font-family="Liberation Sans, Arial, sans-serif" font-weight="bold" text-anchor="middle" textLength="63" lengthAdjust="spacingAndGlyphs">24</text>
<text x="1115.6" y="1927" font-size="50" font-family="Liberation Sans, Arial, sans-serif" font-weight="bold" text-anchor="middle" textLength="63" lengthAdjust="spacingAndGlyphs">32</text>
<text x="479.4" y="1981" font-size="56" font-family="Liberation Sans, Arial, sans-serif" font-weight="bold" textLength="444" lengthAdjust="spacingAndGlyphs">DUT Voltage (V)</text>
<text x="0" y="0" font-size="59" font-family="Liberation Sans, Arial, sans-serif" font-weight="bold" text-anchor="middle" textLength="500" lengthAdjust="spacingAndGlyphs" transform="translate(95.7,1461.5) rotate(-90)">DUT Current (mA)</text>
<line x1="707.4" y1="1122" x2="790.6" y2="1122" stroke="#c00000" stroke-width="2.5"/>
<circle cx="747.1" cy="1122" r="8.3" fill="none" stroke="#c00000" stroke-width="2.6"/>
<text x="797" y="1141.3" font-size="58" font-family="Liberation Sans, Arial, sans-serif" font-weight="bold" textLength="281" lengthAdjust="spacingAndGlyphs">Single TLP</text>
<text x="795.6" y="1269.2" font-size="64" font-family="Liberation Sans, Arial, sans-serif" textLength="252.5" lengthAdjust="spacingAndGlyphs">L=20μm</text>
<text x="800" y="1350.3" font-size="64" font-family="Liberation Sans, Arial, sans-serif" textLength="247.5" lengthAdjust="spacingAndGlyphs">W=7μm</text>
<text x="0" y="0" font-size="100" font-family="DejaVu Sans, sans-serif" font-weight="200" stroke="#000" stroke-width="1.5" transform="translate(968.81 1672.77) scale(1.1921 1.0404)">(</text><text x="0" y="0" font-size="100" font-family="DejaVu Sans, sans-serif" font-weight="200" stroke="#000" stroke-width="1.5" transform="translate(1005.82 1666.40) scale(0.9523 0.9215)">c</text><text x="0" y="0" font-size="100" font-family="DejaVu Sans, sans-serif" font-weight="200" stroke="#000" stroke-width="1.5" transform="translate(1042.96 1672.77) scale(1.2670 1.0404)">)</text>
<polyline points="285.8,1834.4 304.4,1833.8 313.7,1833.8 334.4,1833.4 363.3,1831.3 404.7,1827.2 446,1819 477,1808.6 491.4,1794 497.6,1781.7 518.3,1769.3 532.8,1754.9 541,1728 545.2,1707.3 549.3,1686.7 549.3,1666 553.5,1645.3 555.5,1614.3 555.5,1593.7 557.6,1562.7 563.8,1542 571.7,1500 584.3,1410.8 599.2,1319.2 611.8,1227.5 622.1,1158.7 624.4,1135.8 622.1,1116.4 638.1,1145 656.4,1172.5 826.9,1482.2 851.6,1514.6 1038.1,1831.8 1045.1,1833 1060.4,1831.4" fill="none" stroke="#c00000" stroke-width="2.4"/>
<g fill="none" stroke="#c00000" stroke-width="2.9"><circle cx="285.8" cy="1834.4" r="8.3"/><circle cx="304.4" cy="1833.8" r="8.3"/><circle cx="313.7" cy="1833.8" r="8.3"/><circle cx="334.1" cy="1829.3" r="8.3"/><circle cx="337" cy="1830.6" r="8.3"/><circle cx="340.2" cy="1836" r="8.3"/><circle cx="342.8" cy="1833.6" r="8.3"/><circle cx="345.3" cy="1828.5" r="8.3"/><circle cx="348.3" cy="1831.7" r="8.3"/><circle cx="351.1" cy="1832" r="8.3"/><circle cx="353.7" cy="1828.6" r="8.3"/><circle cx="356.9" cy="1834.1" r="8.3"/><circle cx="359.3" cy="1827.7" r="8.3"/><circle cx="362.2" cy="1830.3" r="8.3"/><circle cx="365.1" cy="1831.3" r="8.3"/><circle cx="367.8" cy="1830.2" r="8.3"/><circle cx="370.8" cy="1831.4" r="8.3"/><circle cx="373.7" cy="1832.7" r="8.3"/><circle cx="376.7" cy="1834.6" r="8.3"/><circle cx="378.8" cy="1827.6" r="8.3"/><circle cx="382" cy="1830.9" r="8.3"/><circle cx="384.8" cy="1831.1" r="8.3"/><circle cx="387.2" cy="1826.8" r="8.3"/><circle cx="389.7" cy="1823.7" r="8.3"/><circle cx="393.5" cy="1833.1" r="8.3"/><circle cx="395.6" cy="1826.1" r="8.3"/><circle cx="398.4" cy="1826" r="8.3"/><circle cx="401.7" cy="1831.4" r="8.3"/><circle cx="404.3" cy="1828.1" r="8.3"/><circle cx="406.8" cy="1826.5" r="8.3"/><circle cx="410.2" cy="1828.9" r="8.3"/><circle cx="411.5" cy="1821.1" r="8.3"/><circle cx="415.5" cy="1827.2" r="8.3"/><circle cx="417.6" cy="1823.3" r="8.3"/><circle cx="419.8" cy="1820" r="8.3"/><circle cx="423.7" cy="1825.1" r="8.3"/><circle cx="427" cy="1827.2" r="8.3"/><circle cx="428.3" cy="1819.5" r="8.3"/><circle cx="431.9" cy="1823.1" r="8.3"/><circle cx="434" cy="1819.3" r="8.3"/><circle cx="437.6" cy="1823.1" r="8.3"/><circle cx="440.3" cy="1822.4" r="8.3"/><circle cx="442.1" cy="1816.9" r="8.3"/><circle cx="446.2" cy="1822.3" r="8.3"/><circle cx="448.5" cy="1819.8" r="8.3"/><circle cx="451.3" cy="1819.2" r="8.3"/><circle cx="454.4" cy="1819.6" r="8.3"/><circle cx="455.8" cy="1815" r="8.3"/><circle cx="459.5" cy="1817.2" r="8.3"/><circle cx="462.5" cy="1817.5" r="8.3"/><circle cx="462.7" cy="1809.2" r="8.3"/><circle cx="467.7" cy="1815.4" r="8.3"/><circle cx="468.9" cy="1810.2" r="8.3"/><circle cx="471.9" cy="1810.1" r="8.3"/><circle cx="473.4" cy="1806.1" r="8.3"/><circle cx="478.3" cy="1810.1" r="8.3"/><circle cx="477.7" cy="1805" r="8.3"/><circle cx="483.8" cy="1807" r="8.3"/><circle cx="481.5" cy="1800.9" r="8.3"/><circle cx="485.5" cy="1800.9" r="8.3"/><circle cx="486.3" cy="1797.7" r="8.3"/><circle cx="489.8" cy="1797.2" r="8.3"/><circle cx="488.5" cy="1792.6" r="8.3"/><circle cx="489.6" cy="1790.5" r="8.3"/><circle cx="495.8" cy="1790.7" r="8.3"/><circle cx="497.1" cy="1788.2" r="8.3"/><circle cx="496.7" cy="1784.9" r="8.3"/><circle cx="500.6" cy="1784.8" r="8.3"/><circle cx="498" cy="1778" r="8.3"/><circle cx="503.8" cy="1782" r="8.3"/><circle cx="502.7" cy="1774.8" r="8.3"/><circle cx="509.2" cy="1780.1" r="8.3"/><circle cx="509.9" cy="1775.8" r="8.3"/><circle cx="512.2" cy="1774.2" r="8.3"/><circle cx="516.5" cy="1775.9" r="8.3"/><circle cx="518" cy="1772.8" r="8.3"/><circle cx="520.6" cy="1771.1" r="8.3"/><circle cx="517.6" cy="1763.7" r="8.3"/><circle cx="521.8" cy="1764" r="8.3"/><circle cx="521.8" cy="1760" r="8.3"/><circle cx="524.6" cy="1758.8" r="8.3"/><circle cx="526.7" cy="1756.9" r="8.3"/><circle cx="533.2" cy="1759.5" r="8.3"/><circle cx="529.5" cy="1753" r="8.3"/><circle cx="531.6" cy="1751.8" r="8.3"/><circle cx="534.3" cy="1749.7" r="8.3"/><circle cx="538.5" cy="1748" r="8.3"/><circle cx="540.5" cy="1745.7" r="8.3"/><circle cx="538.8" cy="1742.3" r="8.3"/><circle cx="534.9" cy="1738.2" r="8.3"/><circle cx="538.9" cy="1736.4" r="8.3"/><circle cx="541.3" cy="1734.2" r="8.3"/><circle cx="535.8" cy="1729.6" r="8.3"/><circle cx="542.7" cy="1728.7" r="8.3"/><circle cx="540.2" cy="1725.3" r="8.3"/><circle cx="542.9" cy="1723" r="8.3"/><circle cx="544.3" cy="1720.4" r="8.3"/><circle cx="544.8" cy="1717.6" r="8.3"/><circle cx="544" cy="1714.6" r="8.3"/><circle cx="544.8" cy="1711.9" r="8.3"/><circle cx="541.9" cy="1708.5" r="8.3"/><circle cx="545.3" cy="1706.3" r="8.3"/><circle cx="542.3" cy="1702.8" r="8.3"/><circle cx="546.3" cy="1700.8" r="8.3"/><circle cx="547.4" cy="1698.2" r="8.3"/><circle cx="550.3" cy="1695.9" r="8.3"/><circle cx="547.1" cy="1692.4" r="8.3"/><circle cx="544" cy="1688.9" r="8.3"/><circle cx="549.5" cy="1687.1" r="8.3"/><circle cx="546.4" cy="1684.3" r="8.3"/><circle cx="551.7" cy="1681.5" r="8.3"/><circle cx="548.2" cy="1678.7" r="8.3"/><circle cx="548.1" cy="1675.9" r="8.3"/><circle cx="553.4" cy="1673.1" r="8.3"/><circle cx="548.2" cy="1670.3" r="8.3"/><circle cx="547.8" cy="1667.4" r="8.3"/><circle cx="548.1" cy="1664.5" r="8.3"/><circle cx="549.9" cy="1661.9" r="8.3"/><circle cx="546.7" cy="1658.4" r="8.3"/><circle cx="551.7" cy="1656.6" r="8.3"/><circle cx="555.9" cy="1654.6" r="8.3"/><circle cx="553" cy="1651.1" r="8.3"/><circle cx="555.3" cy="1648.7" r="8.3"/><circle cx="557.9" cy="1646.1" r="8.3"/><circle cx="557.1" cy="1643" r="8.3"/><circle cx="556.3" cy="1640.1" r="8.3"/><circle cx="557.2" cy="1637.3" r="8.3"/><circle cx="557.4" cy="1634.5" r="8.3"/><circle cx="551.9" cy="1631.4" r="8.3"/><circle cx="554.4" cy="1628.7" r="8.3"/><circle cx="553.2" cy="1625.8" r="8.3"/><circle cx="552.6" cy="1623" r="8.3"/><circle cx="555.8" cy="1620.4" r="8.3"/><circle cx="553.5" cy="1617.4" r="8.3"/><circle cx="556.7" cy="1614.8" r="8.3"/><circle cx="556.3" cy="1612" r="8.3"/><circle cx="551.5" cy="1609.2" r="8.3"/><circle cx="554.9" cy="1606.4" r="8.3"/><circle cx="554.4" cy="1603.6" r="8.3"/><circle cx="557.6" cy="1600.8" r="8.3"/><circle cx="551.4" cy="1598" r="8.3"/><circle cx="552.2" cy="1595.1" r="8.3"/><circle cx="555.7" cy="1592.4" r="8.3"/><circle cx="554.8" cy="1589.5" r="8.3"/><circle cx="557.6" cy="1586.9" r="8.3"/><circle cx="554.5" cy="1583.9" r="8.3"/><circle cx="553.3" cy="1581" r="8.3"/><circle cx="560.8" cy="1578.7" r="8.3"/><circle cx="554.2" cy="1575.4" r="8.3"/><circle cx="553.4" cy="1572.6" r="8.3"/><circle cx="554.9" cy="1569.9" r="8.3"/><circle cx="555.7" cy="1567.1" r="8.3"/><circle cx="554.8" cy="1564.1" r="8.3"/><circle cx="558.3" cy="1561.8" r="8.3"/><circle cx="562.9" cy="1560.2" r="8.3"/><circle cx="555.9" cy="1555.2" r="8.3"/><circle cx="559.5" cy="1553.4" r="8.3"/><circle cx="562.7" cy="1551.4" r="8.3"/><circle cx="565.6" cy="1549.4" r="8.3"/><circle cx="567.5" cy="1547" r="8.3"/><circle cx="560.1" cy="1542" r="8.3"/><circle cx="564.5" cy="1540.2" r="8.3"/><circle cx="568.4" cy="1538.1" r="8.3"/><circle cx="560.8" cy="1533.8" r="8.3"/><circle cx="566.6" cy="1532.1" r="8.3"/><circle cx="563" cy="1528.6" r="8.3"/><circle cx="569.4" cy="1526.9" r="8.3"/><circle cx="571.6" cy="1524.5" r="8.3"/><circle cx="568.1" cy="1521" r="8.3"/><circle cx="563.5" cy="1517.2" r="8.3"/><circle cx="564.5" cy="1514.6" r="8.3"/><circle cx="568.5" cy="1512.5" r="8.3"/><circle cx="573.3" cy="1510.5" r="8.3"/><circle cx="567.8" cy="1506.6" r="8.3"/><circle cx="572.5" cy="1504.7" r="8.3"/><circle cx="570.5" cy="1501.5" r="8.3"/><circle cx="569.5" cy="1498.5" r="8.3"/><circle cx="574.3" cy="1496.4" r="8.3"/><circle cx="570.7" cy="1493.1" r="8.3"/><circle cx="571.8" cy="1490.4" r="8.3"/><circle cx="576.1" cy="1488.1" r="8.3"/><circle cx="573.8" cy="1485" r="8.3"/><circle cx="577" cy="1482.6" r="8.3"/><circle cx="574.8" cy="1479.5" r="8.3"/><circle cx="571.6" cy="1476.2" r="8.3"/><circle cx="574.8" cy="1473.8" r="8.3"/><circle cx="579.5" cy="1471.7" r="8.3"/><circle cx="576.8" cy="1468.5" r="8.3"/><circle cx="581.2" cy="1466.2" r="8.3"/><circle cx="572" cy="1462.1" r="8.3"/><circle cx="575.8" cy="1459.8" r="8.3"/><circle cx="580.4" cy="1457.6" r="8.3"/><circle cx="580" cy="1454.8" r="8.3"/><circle cx="579.1" cy="1451.8" r="8.3"/><circle cx="580.5" cy="1449.2" r="8.3"/><circle cx="583" cy="1446.7" r="8.3"/><circle cx="581.5" cy="1443.7" r="8.3"/><circle cx="580.6" cy="1440.7" r="8.3"/><circle cx="581.1" cy="1437.9" r="8.3"/><circle cx="582.5" cy="1435.3" r="8.3"/><circle cx="579.5" cy="1432.1" r="8.3"/><circle cx="583.3" cy="1429.8" r="8.3"/><circle cx="583.2" cy="1426.9" r="8.3"/><circle cx="585.3" cy="1424.4" r="8.3"/><circle cx="582.6" cy="1421.2" r="8.3"/><circle cx="578.5" cy="1417.8" r="8.3"/><circle cx="584" cy="1415.7" r="8.3"/><circle cx="587.5" cy="1413.4" r="8.3"/><circle cx="585.8" cy="1410.3" r="8.3"/><circle cx="586.3" cy="1407.6" r="8.3"/><circle cx="584.2" cy="1404.4" r="8.3"/><circle cx="584.3" cy="1401.6" r="8.3"/><circle cx="588.4" cy="1399.4" r="8.3"/><circle cx="582.5" cy="1395.6" r="8.3"/><circle cx="590.7" cy="1394.1" r="8.3"/><circle cx="591.3" cy="1391.4" r="8.3"/><circle cx="592.6" cy="1388.8" r="8.3"/><circle cx="584.9" cy="1384.7" r="8.3"/><circle cx="585.1" cy="1381.9" r="8.3"/><circle cx="593.2" cy="1380.4" r="8.3"/><circle cx="588.8" cy="1376.8" r="8.3"/><circle cx="588" cy="1373.8" r="8.3"/><circle cx="589.5" cy="1371.2" r="8.3"/><circle cx="592.7" cy="1368.9" r="8.3"/><circle cx="588.3" cy="1365.4" r="8.3"/><circle cx="591.9" cy="1363.1" r="8.3"/><circle cx="594.1" cy="1360.6" r="8.3"/><circle cx="595.1" cy="1358" r="8.3"/><circle cx="588.6" cy="1354.1" r="8.3"/><circle cx="596.9" cy="1352.6" r="8.3"/><circle cx="593.7" cy="1349.2" r="8.3"/><circle cx="594.1" cy="1346.4" r="8.3"/><circle cx="595.8" cy="1343.9" r="8.3"/><circle cx="593.5" cy="1340.7" r="8.3"/><circle cx="599.9" cy="1338.9" r="8.3"/><circle cx="593.7" cy="1335" r="8.3"/><circle cx="597.4" cy="1332.8" r="8.3"/><circle cx="594.2" cy="1329.4" r="8.3"/><circle cx="599" cy="1327.4" r="8.3"/><circle cx="602.3" cy="1325.1" r="8.3"/><circle cx="602.6" cy="1322.3" r="8.3"/><circle cx="595.6" cy="1318.4" r="8.3"/><circle cx="600.9" cy="1316.3" r="8.3"/><circle cx="603.9" cy="1313.9" r="8.3"/><circle cx="597.4" cy="1310.2" r="8.3"/><circle cx="599.9" cy="1307.7" r="8.3"/><circle cx="603.3" cy="1305.3" r="8.3"/><circle cx="603.9" cy="1302.6" r="8.3"/><circle cx="601.4" cy="1299.4" r="8.3"/><circle cx="603.7" cy="1296.9" r="8.3"/><circle cx="604.3" cy="1294.2" r="8.3"/><circle cx="601.6" cy="1291" r="8.3"/><circle cx="604.9" cy="1288.6" r="8.3"/><circle cx="604.6" cy="1285.7" r="8.3"/><circle cx="606.2" cy="1283.1" r="8.3"/><circle cx="604.7" cy="1280.1" r="8.3"/><circle cx="603.3" cy="1277.1" r="8.3"/><circle cx="604.7" cy="1274.4" r="8.3"/><circle cx="609.9" cy="1272.3" r="8.3"/><circle cx="603" cy="1268.5" r="8.3"/><circle cx="603" cy="1265.7" r="8.3"/><circle cx="602" cy="1262.7" r="8.3"/><circle cx="610.7" cy="1261.1" r="8.3"/><circle cx="612.5" cy="1258.5" r="8.3"/><circle cx="605.4" cy="1254.7" r="8.3"/><circle cx="606.1" cy="1252" r="8.3"/><circle cx="605.8" cy="1249.1" r="8.3"/><circle cx="610.1" cy="1246.9" r="8.3"/><circle cx="609.4" cy="1244" r="8.3"/><circle cx="613.1" cy="1241.7" r="8.3"/><circle cx="607.4" cy="1238" r="8.3"/><circle cx="614.4" cy="1236.2" r="8.3"/><circle cx="610.7" cy="1232.8" r="8.3"/><circle cx="614.5" cy="1230.5" r="8.3"/><circle cx="614.8" cy="1227.8" r="8.3"/><circle cx="616.3" cy="1225.2" r="8.3"/><circle cx="612.6" cy="1221.8" r="8.3"/><circle cx="614.2" cy="1219.2" r="8.3"/><circle cx="614.1" cy="1216.4" r="8.3"/><circle cx="610.8" cy="1213" r="8.3"/><circle cx="614.3" cy="1210.7" r="8.3"/><circle cx="618.9" cy="1208.6" r="8.3"/><circle cx="619.2" cy="1205.8" r="8.3"/><circle cx="610.8" cy="1201.7" r="8.3"/><circle cx="617.6" cy="1199.9" r="8.3"/><circle cx="614.7" cy="1196.6" r="8.3"/><circle cx="613.2" cy="1193.6" r="8.3"/><circle cx="613.6" cy="1190.8" r="8.3"/><circle cx="620.5" cy="1189" r="8.3"/><circle cx="622.6" cy="1186.5" r="8.3"/><circle cx="618.7" cy="1183.1" r="8.3"/><circle cx="617.7" cy="1180.1" r="8.3"/><circle cx="619.4" cy="1177.5" r="8.3"/><circle cx="623" cy="1175.2" r="8.3"/><circle cx="622.6" cy="1172.3" r="8.3"/><circle cx="616.2" cy="1168.5" r="8.3"/><circle cx="618.1" cy="1166" r="8.3"/><circle cx="625" cy="1164.2" r="8.3"/><circle cx="621.7" cy="1160.9" r="8.3"/><circle cx="623.7" cy="1158.3" r="8.3"/><circle cx="625.2" cy="1155.6" r="8.3"/><circle cx="624.1" cy="1152.7" r="8.3"/><circle cx="625.3" cy="1150" r="8.3"/><circle cx="623.7" cy="1147" r="8.3"/><circle cx="620.9" cy="1143.9" r="8.3"/><circle cx="620.7" cy="1141.1" r="8.3"/><circle cx="629" cy="1139.1" r="8.3"/><circle cx="619.5" cy="1135.3" r="8.3"/><circle cx="622.1" cy="1116.4" r="8.3"/><circle cx="638.1" cy="1145" r="8.3"/><circle cx="656.4" cy="1172.5" r="8.3"/><circle cx="826.9" cy="1482.2" r="8.3"/><circle cx="851.6" cy="1514.6" r="8.3"/><circle cx="1038.1" cy="1831.8" r="8.3"/><circle cx="1045.1" cy="1833" r="8.3"/><circle cx="1060.4" cy="1831.4" r="8.3"/></g>
<rect x="1390.4" y="1050.8" width="884" height="769.1" fill="none" stroke="#000" stroke-width="5"/>
<text x="1339" y="1837.4" font-size="51" font-family="Liberation Sans, Arial, sans-serif" font-weight="bold" text-anchor="end" textLength="30" lengthAdjust="spacingAndGlyphs">0</text>
<text x="1339" y="1645.1" font-size="51" font-family="Liberation Sans, Arial, sans-serif" font-weight="bold" text-anchor="end" textLength="60" lengthAdjust="spacingAndGlyphs">40</text>
<text x="1339" y="1452.8" font-size="51" font-family="Liberation Sans, Arial, sans-serif" font-weight="bold" text-anchor="end" textLength="60" lengthAdjust="spacingAndGlyphs">80</text>
<text x="1339" y="1260.6" font-size="51" font-family="Liberation Sans, Arial, sans-serif" font-weight="bold" text-anchor="end" textLength="92" lengthAdjust="spacingAndGlyphs">120</text>
<text x="1339" y="1068.3" font-size="51" font-family="Liberation Sans, Arial, sans-serif" font-weight="bold" text-anchor="end" textLength="92" lengthAdjust="spacingAndGlyphs">160</text>
<text x="1390.4" y="1927" font-size="50" font-family="Liberation Sans, Arial, sans-serif" font-weight="bold" text-anchor="middle" textLength="32" lengthAdjust="spacingAndGlyphs">0</text>
<text x="1611.4" y="1927" font-size="50" font-family="Liberation Sans, Arial, sans-serif" font-weight="bold" text-anchor="middle" textLength="32" lengthAdjust="spacingAndGlyphs">8</text>
<text x="1832.4" y="1927" font-size="50" font-family="Liberation Sans, Arial, sans-serif" font-weight="bold" text-anchor="middle" textLength="63" lengthAdjust="spacingAndGlyphs">16</text>
<text x="2053.4" y="1927" font-size="50" font-family="Liberation Sans, Arial, sans-serif" font-weight="bold" text-anchor="middle" textLength="63" lengthAdjust="spacingAndGlyphs">24</text>
<text x="2276.4" y="1927" font-size="50" font-family="Liberation Sans, Arial, sans-serif" font-weight="bold" text-anchor="middle" textLength="63" lengthAdjust="spacingAndGlyphs">32</text>
<text x="1653.8" y="1981" font-size="56" font-family="Liberation Sans, Arial, sans-serif" font-weight="bold" textLength="444" lengthAdjust="spacingAndGlyphs">DUT Voltage (V)</text>
<text x="0" y="0" font-size="59" font-family="Liberation Sans, Arial, sans-serif" font-weight="bold" text-anchor="middle" textLength="492" lengthAdjust="spacingAndGlyphs" transform="translate(1240.2,1436.7) rotate(-90)">DUT Current (mA)</text>
<line x1="1402.5" y1="1102" x2="1485.3" y2="1102" stroke="#0070c0" stroke-width="2.5"/>
<rect x="1431.9" y="1092.3" width="19.6" height="19.6" fill="none" stroke="#0070c0" stroke-width="2.8"/>
<text x="1491.4" y="1123.5" font-size="58" font-family="Liberation Sans, Arial, sans-serif" font-weight="bold" textLength="351" lengthAdjust="spacingAndGlyphs">Single VFTLP</text>
<text x="1475.4" y="1269.8" font-size="64" font-family="Liberation Sans, Arial, sans-serif" textLength="252.2" lengthAdjust="spacingAndGlyphs">L=15μm</text>
<text x="1479.2" y="1350.3" font-size="64" font-family="Liberation Sans, Arial, sans-serif" textLength="246.4" lengthAdjust="spacingAndGlyphs">W=7μm</text>
<text x="0" y="0" font-size="100" font-family="DejaVu Sans, sans-serif" font-weight="200" stroke="#000" stroke-width="1.5" transform="translate(2077.21 1673.61) scale(1.2373 1.0449)">(</text><text x="0" y="0" font-size="100" font-family="DejaVu Sans, sans-serif" font-weight="200" stroke="#000" stroke-width="1.5" transform="translate(2112.15 1665.38) scale(1.0318 0.9366)">d</text><text x="0" y="0" font-size="100" font-family="DejaVu Sans, sans-serif" font-weight="200" stroke="#000" stroke-width="1.5" transform="translate(2163.41 1673.61) scale(1.2443 1.0449)">)</text>
<polyline points="1402,1820 1440,1819 1480,1818 1520,1816 1560,1812 1590,1806 1615,1799 1640,1792 1655,1782 1673,1772 1681,1747 1699,1727 1716,1701 1734,1677 1762,1652 1765,1619 1761,1587 1772,1558 1787,1547 1801,1527 1807,1502 1801,1474 1811,1455 1813,1406 1822,1380 1820,1350 1824,1322 1830,1299 1834.6,1261 1837,1223 1851,1195 1860,1174 1862.7,1140 1867.4,1102.3 1883.8,1152.7 1962.9,1392.2 1991.9,1450.3 2099.1,1811 2107.6,1817.6 2121.9,1816.6" fill="none" stroke="#0070c0" stroke-width="2.4"/>
<g fill="none" stroke="#0070c0" stroke-width="2.6"><rect x="1392.2" y="1811.4" width="19.6" height="19.6"/><rect x="1397.7" y="1811.3" width="19.6" height="19.6"/><rect x="1403.2" y="1810" width="19.6" height="19.6"/><rect x="1408.7" y="1808.9" width="19.6" height="19.6"/><rect x="1414.2" y="1807.8" width="19.6" height="19.6"/><rect x="1419.7" y="1809" width="19.6" height="19.6"/><rect x="1425.2" y="1809" width="19.6" height="19.6"/><rect x="1430.7" y="1807.4" width="19.6" height="19.6"/><rect x="1436.2" y="1807.2" width="19.6" height="19.6"/><rect x="1441.8" y="1810.9" width="19.6" height="19.6"/><rect x="1447.3" y="1809.4" width="19.6" height="19.6"/><rect x="1452.7" y="1807.6" width="19.6" height="19.6"/><rect x="1458.3" y="1808.2" width="19.6" height="19.6"/><rect x="1463.8" y="1810.3" width="19.6" height="19.6"/><rect x="1469.3" y="1809.8" width="19.6" height="19.6"/><rect x="1474.8" y="1809.3" width="19.6" height="19.6"/><rect x="1480.2" y="1807.3" width="19.6" height="19.6"/><rect x="1485.8" y="1807.4" width="19.6" height="19.6"/><rect x="1491.3" y="1807.9" width="19.6" height="19.6"/><rect x="1496.7" y="1805.1" width="19.6" height="19.6"/><rect x="1502.3" y="1806.8" width="19.6" height="19.6"/><rect x="1507.7" y="1805.4" width="19.6" height="19.6"/><rect x="1513.4" y="1807.4" width="19.6" height="19.6"/><rect x="1518.6" y="1803.6" width="19.6" height="19.6"/><rect x="1524.3" y="1805.5" width="19.6" height="19.6"/><rect x="1529.8" y="1805.7" width="19.6" height="19.6"/><rect x="1535.1" y="1802.6" width="19.6" height="19.6"/><rect x="1540.8" y="1804.7" width="19.6" height="19.6"/><rect x="1546.3" y="1804.1" width="19.6" height="19.6"/><rect x="1551.3" y="1800" width="19.6" height="19.6"/><rect x="1557.2" y="1801.7" width="19.6" height="19.6"/><rect x="1562" y="1797.8" width="19.6" height="19.6"/><rect x="1567.8" y="1798.7" width="19.6" height="19.6"/><rect x="1573.1" y="1797.4" width="19.6" height="19.6"/><rect x="1578.3" y="1795.4" width="19.6" height="19.6"/><rect x="1583.7" y="1794.5" width="19.6" height="19.6"/><rect x="1589.6" y="1794.9" width="19.6" height="19.6"/><rect x="1594.3" y="1791.5" width="19.6" height="19.6"/><rect x="1599.5" y="1789.4" width="19.6" height="19.6"/><rect x="1605.4" y="1790" width="19.6" height="19.6"/><rect x="1610.4" y="1787.5" width="19.6" height="19.6"/><rect x="1616.1" y="1787.4" width="19.6" height="19.6"/><rect x="1620.8" y="1783.7" width="19.6" height="19.6"/><rect x="1626.1" y="1782.6" width="19.6" height="19.6"/><rect x="1632" y="1782.4" width="19.6" height="19.6"/><rect x="1636.1" y="1778.3" width="19.6" height="19.6"/><rect x="1640.6" y="1775.3" width="19.6" height="19.6"/><rect x="1644.6" y="1771.3" width="19.6" height="19.6"/><rect x="1664.7" y="1768.6" width="19.6" height="19.6"/><rect x="1666.5" y="1757.8" width="19.6" height="19.6"/><rect x="1660.8" y="1768.2" width="19.6" height="19.6"/><rect x="1657.3" y="1767.3" width="19.6" height="19.6"/><rect x="1666.8" y="1761.7" width="19.6" height="19.6"/><rect x="1660.8" y="1758.7" width="19.6" height="19.6"/><rect x="1660.3" y="1761.3" width="19.6" height="19.6"/><rect x="1663.3" y="1763.1" width="19.6" height="19.6"/><rect x="1677.1" y="1741.9" width="19.6" height="19.6"/><rect x="1672.7" y="1745" width="19.6" height="19.6"/><rect x="1667.8" y="1731.8" width="19.6" height="19.6"/><rect x="1672.6" y="1729.9" width="19.6" height="19.6"/><rect x="1665.6" y="1737.4" width="19.6" height="19.6"/><rect x="1670.8" y="1743.9" width="19.6" height="19.6"/><rect x="1690.8" y="1717.4" width="19.6" height="19.6"/><rect x="1689.2" y="1713.2" width="19.6" height="19.6"/><rect x="1683.3" y="1712.3" width="19.6" height="19.6"/><rect x="1691.5" y="1712.4" width="19.6" height="19.6"/><rect x="1687.6" y="1709.3" width="19.6" height="19.6"/><rect x="1693.2" y="1711.7" width="19.6" height="19.6"/><rect x="1703.4" y="1697.3" width="19.6" height="19.6"/><rect x="1706.3" y="1696.8" width="19.6" height="19.6"/><rect x="1707.9" y="1695.1" width="19.6" height="19.6"/><rect x="1701.3" y="1691.9" width="19.6" height="19.6"/><rect x="1706.3" y="1697.1" width="19.6" height="19.6"/><rect x="1704.5" y="1692.8" width="19.6" height="19.6"/><rect x="1718.9" y="1665.4" width="19.6" height="19.6"/><rect x="1722.1" y="1661.6" width="19.6" height="19.6"/><rect x="1728" y="1665.3" width="19.6" height="19.6"/><rect x="1729.9" y="1668.6" width="19.6" height="19.6"/><rect x="1725.5" y="1669.4" width="19.6" height="19.6"/><rect x="1726.3" y="1661.6" width="19.6" height="19.6"/><rect x="1723.5" y="1663" width="19.6" height="19.6"/><rect x="1723" y="1660.7" width="19.6" height="19.6"/><rect x="1757.8" y="1637.6" width="19.6" height="19.6"/><rect x="1754.3" y="1639" width="19.6" height="19.6"/><rect x="1756.7" y="1644.8" width="19.6" height="19.6"/><rect x="1747.8" y="1647.7" width="19.6" height="19.6"/><rect x="1757.5" y="1648.7" width="19.6" height="19.6"/><rect x="1753" y="1636.5" width="19.6" height="19.6"/><rect x="1751.5" y="1616" width="19.6" height="19.6"/><rect x="1755.8" y="1604.1" width="19.6" height="19.6"/><rect x="1759.8" y="1611.5" width="19.6" height="19.6"/><rect x="1756" y="1607.2" width="19.6" height="19.6"/><rect x="1750.1" y="1573" width="19.6" height="19.6"/><rect x="1745.7" y="1583.2" width="19.6" height="19.6"/><rect x="1750.8" y="1578" width="19.6" height="19.6"/><rect x="1749.1" y="1581.2" width="19.6" height="19.6"/><rect x="1745.5" y="1575.2" width="19.6" height="19.6"/><rect x="1745.6" y="1571.2" width="19.6" height="19.6"/><rect x="1767.8" y="1550.7" width="19.6" height="19.6"/><rect x="1761.3" y="1548.6" width="19.6" height="19.6"/><rect x="1766.7" y="1545.7" width="19.6" height="19.6"/><rect x="1763.3" y="1551.1" width="19.6" height="19.6"/><rect x="1760.5" y="1548.5" width="19.6" height="19.6"/><rect x="1765.4" y="1554.7" width="19.6" height="19.6"/><rect x="1773" y="1544.1" width="19.6" height="19.6"/><rect x="1771.3" y="1541.2" width="19.6" height="19.6"/><rect x="1780.9" y="1531.4" width="19.6" height="19.6"/><rect x="1776.2" y="1542.2" width="19.6" height="19.6"/><rect x="1785.4" y="1519.3" width="19.6" height="19.6"/><rect x="1794.7" y="1517.4" width="19.6" height="19.6"/><rect x="1793.9" y="1512.8" width="19.6" height="19.6"/><rect x="1787.6" y="1515" width="19.6" height="19.6"/><rect x="1793.4" y="1489.7" width="19.6" height="19.6"/><rect x="1802.6" y="1493.4" width="19.6" height="19.6"/><rect x="1795.3" y="1488.5" width="19.6" height="19.6"/><rect x="1802.6" y="1491.3" width="19.6" height="19.6"/><rect x="1803" y="1492.4" width="19.6" height="19.6"/><rect x="1797.5" y="1498.5" width="19.6" height="19.6"/><rect x="1794.1" y="1465.5" width="19.6" height="19.6"/><rect x="1790.3" y="1470.3" width="19.6" height="19.6"/><rect x="1790.1" y="1471" width="19.6" height="19.6"/><rect x="1786" y="1463.1" width="19.6" height="19.6"/><rect x="1801.4" y="1452.4" width="19.6" height="19.6"/><rect x="1798.2" y="1450.1" width="19.6" height="19.6"/><rect x="1803.3" y="1448.7" width="19.6" height="19.6"/><rect x="1802.8" y="1452.7" width="19.6" height="19.6"/><rect x="1801.2" y="1394.6" width="19.6" height="19.6"/><rect x="1799.6" y="1389" width="19.6" height="19.6"/><rect x="1799.8" y="1402.8" width="19.6" height="19.6"/><rect x="1807.3" y="1390" width="19.6" height="19.6"/><rect x="1804.4" y="1395.9" width="19.6" height="19.6"/><rect x="1804.3" y="1398.7" width="19.6" height="19.6"/><rect x="1809.9" y="1377.6" width="19.6" height="19.6"/><rect x="1811.8" y="1372.2" width="19.6" height="19.6"/><rect x="1813.8" y="1365.1" width="19.6" height="19.6"/><rect x="1806.9" y="1368.8" width="19.6" height="19.6"/><rect x="1813.4" y="1345.2" width="19.6" height="19.6"/><rect x="1813" y="1334" width="19.6" height="19.6"/><rect x="1815.2" y="1345" width="19.6" height="19.6"/><rect x="1814.7" y="1340.6" width="19.6" height="19.6"/><rect x="1819.2" y="1304.9" width="19.6" height="19.6"/><rect x="1808.6" y="1304.5" width="19.6" height="19.6"/><rect x="1811.2" y="1308.2" width="19.6" height="19.6"/><rect x="1810.5" y="1313.3" width="19.6" height="19.6"/><rect x="1814.7" y="1290.6" width="19.6" height="19.6"/><rect x="1816.2" y="1292" width="19.6" height="19.6"/><rect x="1814.5" y="1286.2" width="19.6" height="19.6"/><rect x="1825.5" y="1289.8" width="19.6" height="19.6"/><rect x="1828.5" y="1253.7" width="19.6" height="19.6"/><rect x="1826.1" y="1246.3" width="19.6" height="19.6"/><rect x="1828.1" y="1205.8" width="19.6" height="19.6"/><rect x="1830.8" y="1220.6" width="19.6" height="19.6"/><rect x="1831.4" y="1206" width="19.6" height="19.6"/><rect x="1825.3" y="1210.3" width="19.6" height="19.6"/><rect x="1836.6" y="1187.2" width="19.6" height="19.6"/><rect x="1844.8" y="1182.2" width="19.6" height="19.6"/><rect x="1845.6" y="1190" width="19.6" height="19.6"/><rect x="1836.7" y="1189.5" width="19.6" height="19.6"/><rect x="1845.8" y="1180.4" width="19.6" height="19.6"/><rect x="1842.1" y="1187.4" width="19.6" height="19.6"/><rect x="1851.5" y="1157.7" width="19.6" height="19.6"/><rect x="1852.1" y="1166.3" width="19.6" height="19.6"/><rect x="1854.1" y="1169.1" width="19.6" height="19.6"/><rect x="1848.1" y="1167.8" width="19.6" height="19.6"/><rect x="1854.6" y="1170.5" width="19.6" height="19.6"/><rect x="1846.1" y="1156.6" width="19.6" height="19.6"/><rect x="1852" y="1159.6" width="19.6" height="19.6"/><rect x="1851" y="1171.3" width="19.6" height="19.6"/><rect x="1851.5" y="1126.2" width="19.6" height="19.6"/><rect x="1852.4" y="1132.7" width="19.6" height="19.6"/><rect x="1848.1" y="1128.3" width="19.6" height="19.6"/><rect x="1848.5" y="1132.8" width="19.6" height="19.6"/><rect x="1856.9" y="1128.2" width="19.6" height="19.6"/><rect x="1851.4" y="1130.8" width="19.6" height="19.6"/><rect x="1854.2" y="1088.5" width="19.6" height="19.6"/><rect x="1855.6" y="1091.8" width="19.6" height="19.6"/><rect x="1857.6" y="1092.5" width="19.6" height="19.6"/><rect x="1874" y="1142.9" width="19.6" height="19.6"/><rect x="1953.1" y="1382.4" width="19.6" height="19.6"/><rect x="1982.1" y="1440.5" width="19.6" height="19.6"/><rect x="2089.3" y="1801.2" width="19.6" height="19.6"/><rect x="2097.8" y="1807.8" width="19.6" height="19.6"/><rect x="2112.1" y="1806.8" width="19.6" height="19.6"/><rect x="1706.2" y="1743.2" width="19.6" height="19.6"/><rect x="1735.2" y="1676.2" width="19.6" height="19.6"/><rect x="1669.9" y="1771.9" width="19.6" height="19.6"/><rect x="1874" y="1142.9" width="19.6" height="19.6"/></g>
</svg></body></html>
